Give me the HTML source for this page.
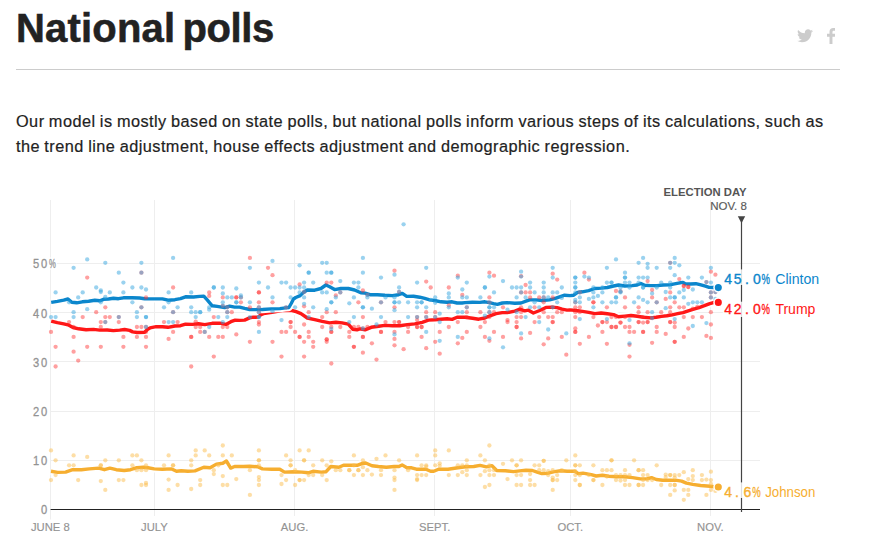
<!DOCTYPE html>
<html><head><meta charset="utf-8"><title>National polls</title>
<style>
html,body{margin:0;padding:0;background:#fff;}
body{width:884px;height:559px;overflow:hidden;position:relative;font-family:"Liberation Sans",sans-serif;color:#222;}
h1{position:absolute;left:15.9px;top:0px;-webkit-text-stroke:0.55px #222;margin:0;font-size:40px;line-height:56px;font-weight:bold;color:#222;letter-spacing:-0.4px;white-space:nowrap;}
.hr{position:absolute;left:16px;top:69px;width:824px;height:1px;background:#ccc;}
p{position:absolute;left:16px;top:108px;transform:translateY(0.5px);-webkit-text-stroke:0.2px #222;margin:0;font-size:16.3px;letter-spacing:0.46px;word-spacing:-0.63px;line-height:25px;color:#222;white-space:nowrap;}
svg{position:absolute;left:0;top:0;}
.ylab{font-family:"Liberation Sans",sans-serif;font-size:12.4px;fill:#939393;stroke:#939393;stroke-width:0.3px;}
.xlab{font-family:"Liberation Sans",sans-serif;font-size:11.8px;fill:#939393;stroke:#939393;stroke-width:0.15px;}
.num{font-family:"Liberation Sans",sans-serif;font-size:14px;}
.nm{font-family:"Liberation Sans",sans-serif;font-size:14px;}
.eday{font-family:"Liberation Sans",sans-serif;font-size:11.3px;font-weight:bold;fill:#555;}
.eday2{font-family:"Liberation Sans",sans-serif;font-size:11.5px;fill:#5a5a5a;stroke:#5a5a5a;stroke-width:0.15px;}
</style></head><body>
<h1><span style="letter-spacing:0.2px">National</span><span style="letter-spacing:-3.9px"> </span>polls</h1>
<svg class="soc" style="left:796.9px;top:29.1px" width="16" height="14" viewBox="0 0 24 20"><path fill="#ccc" d="M24 2.4c-.9.4-1.8.7-2.8.8 1-.6 1.800-1.600 2.200-2.700-1 .6-2 1-3.100 1.200C19.300.7 18 0 16.600 0c-2.700 0-4.900 2.200-4.900 4.900 0 .4 0 .8.100 1.100C7.700 5.800 4.100 3.800 1.700.900c-.4.700-.700 1.600-.700 2.500 0 1.700.900 3.200 2.200 4.100-.8 0-1.600-.2-2.200-.6v.100c0 2.400 1.700 4.400 3.900 4.800-.4.100-.800.200-1.300.2-.3 0-.6 0-.9-.1.600 2 2.400 3.400 4.600 3.400-1.700 1.300-3.800 2.100-6.100 2.100-.4 0-.8 0-1.200-.1 2.200 1.400 4.800 2.200 7.500 2.200 9.100 0 14-7.500 14-14v-.6c1-.7 1.800-1.600 2.500-2.500z"/></svg>
<svg class="soc" style="left:826.9px;top:28px" width="8.4" height="16" viewBox="0 0 10 20" preserveAspectRatio="none"><path fill="#ccc" d="M6.500 20v-9.100h3l.5-3.600H6.500V5.100c0-1 .3-1.700 1.700-1.700H10V.2C9.700.1 8.600 0 7.400 0 4.800 0 3 1.600 3 4.600v2.700H0v3.600h3V20h3.500z"/></svg>
<div class="hr"></div>
<p>Our model is mostly based on state polls, but national polls inform various steps of its calculations, such as<br>the trend line adjustment, house effects adjustment and demographic regression.</p>
<svg width="884" height="559" viewBox="0 0 884 559">
<line x1="50.5" y1="200" x2="50.5" y2="519.5" stroke="#eeeeee" stroke-width="1"/>
<line x1="154.5" y1="200" x2="154.5" y2="516" stroke="#eeeeee" stroke-width="1"/>
<line x1="294.5" y1="200" x2="294.5" y2="516" stroke="#eeeeee" stroke-width="1"/>
<line x1="434.5" y1="200" x2="434.5" y2="516" stroke="#eeeeee" stroke-width="1"/>
<line x1="570.5" y1="200" x2="570.5" y2="516" stroke="#eeeeee" stroke-width="1"/>
<line x1="710.5" y1="200" x2="710.5" y2="516" stroke="#eeeeee" stroke-width="1"/>
<line x1="50" y1="460.5" x2="760" y2="460.5" stroke="#eeeeee" stroke-width="1"/>
<line x1="50" y1="411.5" x2="760" y2="411.5" stroke="#eeeeee" stroke-width="1"/>
<line x1="50" y1="361.5" x2="760" y2="361.5" stroke="#eeeeee" stroke-width="1"/>
<line x1="50" y1="312.5" x2="760" y2="312.5" stroke="#eeeeee" stroke-width="1"/>
<line x1="50" y1="263.5" x2="760" y2="263.5" stroke="#eeeeee" stroke-width="1"/>
<line x1="50.6" y1="509.5" x2="760" y2="509.5" stroke="#222" stroke-width="1.2"/>
<line x1="741.5" y1="218" x2="741.5" y2="512" stroke="#444" stroke-width="1.2"/>
<path d="M737.8 216.3 L745.2 216.3 L741.5 223.2 Z" fill="#444"/>
<rect x="31" y="257.5" width="26" height="12" fill="#fff"/>
<text transform="translate(33.0,268.3) scale(0.9,1)" class="ylab">5</text>
<text transform="translate(41.0,268.3) scale(0.9,1)" class="ylab">0</text>
<text transform="translate(48.9,268.3) scale(0.62,1)" class="ylab">%</text>
<text transform="translate(33.0,317.5) scale(0.9,1)" class="ylab">4</text>
<text transform="translate(41.0,317.5) scale(0.9,1)" class="ylab">0</text>
<text transform="translate(33.0,366.7) scale(0.9,1)" class="ylab">3</text>
<text transform="translate(41.0,366.7) scale(0.9,1)" class="ylab">0</text>
<text transform="translate(33.0,415.9) scale(0.9,1)" class="ylab">2</text>
<text transform="translate(41.0,415.9) scale(0.9,1)" class="ylab">0</text>
<text transform="translate(33.0,465.1) scale(0.9,1)" class="ylab">1</text>
<text transform="translate(41.0,465.1) scale(0.9,1)" class="ylab">0</text>
<text transform="translate(41.0,514.3) scale(0.9,1)" class="ylab">0</text>
<polyline points="51.0,471.3 57.7,472.4 65.6,472.1 72.7,469.7 81.4,469.7 89.3,468.9 98.8,468.1 104.4,469.7 109.9,468.1 116.3,469.7 124.2,470.5 130.5,469.7 136.9,467.6 143.2,467.3 147.9,467.8 154.3,468.9 162.2,469.2 171.7,468.9 176.5,471.3 181.2,470.8 187.9,471.3 195.0,470.9 203.8,467.3 210.1,467.8 216.4,464.1 222.8,463.3 226.4,461.0 230.7,468.1 234.6,466.5 243.4,466.5 249.7,466.2 257.6,466.8 262.4,468.9 271.9,469.2 279.8,469.2 284.5,472.1 294.0,471.7 301.9,472.1 308.3,472.8 313.0,471.3 321.3,472.1 326.1,471.7 330.8,466.5 338.8,467.3 343.5,465.2 351.4,465.2 357.8,465.2 362.5,463.3 365.7,463.0 372.0,465.7 378.4,466.5 386.3,467.3 394.2,466.5 398.9,466.5 402.1,464.9 406.9,467.8 411.6,467.8 416.4,469.2 425.9,469.2 430.6,471.3 433.8,471.3 438.5,469.2 448.0,469.2 457.9,467.8 465.8,466.8 473.8,466.5 480.1,465.4 486.4,466.8 492.0,465.7 496.7,470.5 505.4,470.8 513.4,471.6 519.7,470.9 526.0,470.2 532.4,470.5 537.1,472.1 541.9,473.6 548.2,473.2 554.5,471.6 560.9,470.8 567.2,471.3 575.1,471.3 578.3,473.6 583.0,473.2 591.3,474.7 596.1,476.0 602.4,475.2 608.8,476.3 616.7,476.8 624.6,476.8 632.5,477.6 640.4,478.9 646.8,478.9 651.5,477.6 656.3,479.5 662.6,480.3 670.5,480.3 676.9,480.4 681.6,481.1 686.4,483.1 692.7,484.4 700.6,485.5 710.1,486.3 714.1,486.7 718.3,487.0" fill="none" stroke="#fff" stroke-width="7.4" stroke-linejoin="round" stroke-linecap="butt"/>
<polyline points="51.0,471.3 57.7,472.4 65.6,472.1 72.7,469.7 81.4,469.7 89.3,468.9 98.8,468.1 104.4,469.7 109.9,468.1 116.3,469.7 124.2,470.5 130.5,469.7 136.9,467.6 143.2,467.3 147.9,467.8 154.3,468.9 162.2,469.2 171.7,468.9 176.5,471.3 181.2,470.8 187.9,471.3 195.0,470.9 203.8,467.3 210.1,467.8 216.4,464.1 222.8,463.3 226.4,461.0 230.7,468.1 234.6,466.5 243.4,466.5 249.7,466.2 257.6,466.8 262.4,468.9 271.9,469.2 279.8,469.2 284.5,472.1 294.0,471.7 301.9,472.1 308.3,472.8 313.0,471.3 321.3,472.1 326.1,471.7 330.8,466.5 338.8,467.3 343.5,465.2 351.4,465.2 357.8,465.2 362.5,463.3 365.7,463.0 372.0,465.7 378.4,466.5 386.3,467.3 394.2,466.5 398.9,466.5 402.1,464.9 406.9,467.8 411.6,467.8 416.4,469.2 425.9,469.2 430.6,471.3 433.8,471.3 438.5,469.2 448.0,469.2 457.9,467.8 465.8,466.8 473.8,466.5 480.1,465.4 486.4,466.8 492.0,465.7 496.7,470.5 505.4,470.8 513.4,471.6 519.7,470.9 526.0,470.2 532.4,470.5 537.1,472.1 541.9,473.6 548.2,473.2 554.5,471.6 560.9,470.8 567.2,471.3 575.1,471.3 578.3,473.6 583.0,473.2 591.3,474.7 596.1,476.0 602.4,475.2 608.8,476.3 616.7,476.8 624.6,476.8 632.5,477.6 640.4,478.9 646.8,478.9 651.5,477.6 656.3,479.5 662.6,480.3 670.5,480.3 676.9,480.4 681.6,481.1 686.4,483.1 692.7,484.4 700.6,485.5 710.1,486.3 714.1,486.7 718.3,487.0" fill="none" stroke="#f6ae30" stroke-width="3.4" stroke-linejoin="round" stroke-linecap="butt"/>
<polyline points="51.2,321.1 57.4,322.6 63.7,323.8 68.0,324.8 73.0,327.5 78.6,328.8 86.1,329.8 93.5,329.4 99.8,330.1 107.2,330.0 113.4,330.6 119.7,330.1 124.6,329.5 129.6,330.4 132.7,331.9 137.1,332.5 144.6,332.3 147.7,329.2 150,327.9 156.2,326.7 162.4,326.7 168.0,327.3 174.9,326.0 180.5,325.7 185.5,324.2 192.3,324.4 198.5,323.8 204.8,324.6 212.2,323.3 219.7,323.2 225.9,324.4 230.9,321.7 235.2,320.1 239.6,320.4 244.6,320.1 249.6,317.9 253.3,317.1 255,317.3 258.4,317.0 261,314.6 263.5,313.6 272,312.3 282,310.6 292,310.5 296.1,311.7 301.0,313.6 307.3,318.0 314.7,319.6 322.2,321.4 329.7,322.9 335.9,322.3 342.1,322.9 348.3,324.2 352.7,329.2 357.0,329.8 360,328.9 365.0,329.8 371.2,327.3 378.7,326.3 384.9,325.4 392.4,325.8 399.8,325.7 407.3,324.6 414.8,323.9 422.2,322.3 428.4,320.1 434.7,319.8 440.9,319.2 447.1,318.8 452.1,319.4 457.1,317.3 462.0,317.1 465,317.3 472.5,318.3 478.7,319.2 484.9,318.0 489.9,315.8 496.1,313.6 502.3,312.6 507.3,312.6 514.8,311.1 519.8,309.2 524.7,310.9 528.5,310.2 533.4,313.0 539.7,310.5 545.9,307.4 552.1,307.1 557.1,307.6 562.1,309.2 567.0,310.1 570,309.9 576.2,310.5 582.4,311.4 588.7,312.4 594.9,313.6 601.1,313.0 607.3,313.8 613.6,314.6 618.5,316.7 624.8,316.1 631.0,315.5 637.2,316.3 643.4,317.2 650.7,317.9 656.1,317.3 661.5,316.4 666.8,315.8 672.2,314.9 677.6,313.7 683.0,312.6 688.3,310.8 693.7,309.2 699.1,307.6 704.4,305.7 709.8,303.6 714.3,302.3 718.3,302.4" fill="none" stroke="#fff" stroke-width="7.4" stroke-linejoin="round" stroke-linecap="butt"/>
<polyline points="51.2,321.1 57.4,322.6 63.7,323.8 68.0,324.8 73.0,327.5 78.6,328.8 86.1,329.8 93.5,329.4 99.8,330.1 107.2,330.0 113.4,330.6 119.7,330.1 124.6,329.5 129.6,330.4 132.7,331.9 137.1,332.5 144.6,332.3 147.7,329.2 150,327.9 156.2,326.7 162.4,326.7 168.0,327.3 174.9,326.0 180.5,325.7 185.5,324.2 192.3,324.4 198.5,323.8 204.8,324.6 212.2,323.3 219.7,323.2 225.9,324.4 230.9,321.7 235.2,320.1 239.6,320.4 244.6,320.1 249.6,317.9 253.3,317.1 255,317.3 258.4,317.0 261,314.6 263.5,313.6 272,312.3 282,310.6 292,310.5 296.1,311.7 301.0,313.6 307.3,318.0 314.7,319.6 322.2,321.4 329.7,322.9 335.9,322.3 342.1,322.9 348.3,324.2 352.7,329.2 357.0,329.8 360,328.9 365.0,329.8 371.2,327.3 378.7,326.3 384.9,325.4 392.4,325.8 399.8,325.7 407.3,324.6 414.8,323.9 422.2,322.3 428.4,320.1 434.7,319.8 440.9,319.2 447.1,318.8 452.1,319.4 457.1,317.3 462.0,317.1 465,317.3 472.5,318.3 478.7,319.2 484.9,318.0 489.9,315.8 496.1,313.6 502.3,312.6 507.3,312.6 514.8,311.1 519.8,309.2 524.7,310.9 528.5,310.2 533.4,313.0 539.7,310.5 545.9,307.4 552.1,307.1 557.1,307.6 562.1,309.2 567.0,310.1 570,309.9 576.2,310.5 582.4,311.4 588.7,312.4 594.9,313.6 601.1,313.0 607.3,313.8 613.6,314.6 618.5,316.7 624.8,316.1 631.0,315.5 637.2,316.3 643.4,317.2 650.7,317.9 656.1,317.3 661.5,316.4 666.8,315.8 672.2,314.9 677.6,313.7 683.0,312.6 688.3,310.8 693.7,309.2 699.1,307.6 704.4,305.7 709.8,303.6 714.3,302.3 718.3,302.4" fill="none" stroke="#ff1717" stroke-width="3.4" stroke-linejoin="round" stroke-linecap="butt"/>
<polyline points="51.2,302.4 57.4,301.4 63.7,300.2 68.0,299.0 71.8,302.2 76.7,302.8 82.3,301.8 88.6,301.2 94.8,300.3 99.8,300.8 103.5,299.3 108.5,299.0 113.4,298.3 118.4,298.7 123.4,297.8 132.1,297.8 139.6,298.0 144.6,298.7 150,298.9 156.2,298.9 162.4,298.9 168.0,300.2 174.9,299.7 180.5,298.7 185.5,296.8 193.6,297.0 199.8,296.4 203.8,296.2 207.2,299.9 212.2,305.8 217.2,306.4 224.7,307.6 229.6,306.1 234.6,307.1 239.6,307.1 244.6,308.4 249.6,309.5 255,309.6 262.5,309.5 271.2,308.9 279.9,308.6 285.5,307.9 288.9,307.5 291.2,303.5 293.5,299.0 295.7,297.5 300.2,295.6 303.5,292.4 307.3,290.0 314.7,290.2 321.0,288.5 325.9,285.0 329.7,286.8 334.6,289.6 340.9,288.5 348.3,288.5 354.6,290.0 360.8,292.8 365.0,293.1 370.0,294.7 377.4,294.7 384.9,295.3 392.4,295.6 398.6,294.7 402.3,293.4 406.7,296.4 413.5,296.2 419.7,297.2 424.7,298.4 429.7,299.9 434.7,300.5 440.9,301.8 447.1,302.2 452.1,301.8 457.1,303.0 462.0,303.0 465,302.6 472.5,302.2 479.9,302.4 484.9,301.8 489.3,302.6 493.6,303.6 497.4,304.3 502.3,303.0 507.3,302.6 514.8,303.3 521.0,303.0 526.0,301.2 529.7,299.9 535.9,299.9 542.2,300.5 549.6,299.9 554.6,298.7 559.6,296.8 564.6,295.2 570,295.6 573.7,295.2 577.5,292.4 582.4,291.8 588.7,290.6 594.9,288.5 601.1,288.1 607.3,287.5 613.6,286.0 618.5,285.0 624.8,286.0 632.2,285.6 637.2,285.0 640.9,283.5 644.7,285.2 650.9,285.6 657.1,285.6 663.3,285.0 669.6,284.9 675.8,283.7 680,282.8 683.0,282.4 685.1,283.7 690.5,284.0 695.8,283.7 700,284.7 705.4,286.2 709.1,287.4 713.4,287.5 718.3,287.6" fill="none" stroke="#fff" stroke-width="7.4" stroke-linejoin="round" stroke-linecap="butt"/>
<polyline points="51.2,302.4 57.4,301.4 63.7,300.2 68.0,299.0 71.8,302.2 76.7,302.8 82.3,301.8 88.6,301.2 94.8,300.3 99.8,300.8 103.5,299.3 108.5,299.0 113.4,298.3 118.4,298.7 123.4,297.8 132.1,297.8 139.6,298.0 144.6,298.7 150,298.9 156.2,298.9 162.4,298.9 168.0,300.2 174.9,299.7 180.5,298.7 185.5,296.8 193.6,297.0 199.8,296.4 203.8,296.2 207.2,299.9 212.2,305.8 217.2,306.4 224.7,307.6 229.6,306.1 234.6,307.1 239.6,307.1 244.6,308.4 249.6,309.5 255,309.6 262.5,309.5 271.2,308.9 279.9,308.6 285.5,307.9 288.9,307.5 291.2,303.5 293.5,299.0 295.7,297.5 300.2,295.6 303.5,292.4 307.3,290.0 314.7,290.2 321.0,288.5 325.9,285.0 329.7,286.8 334.6,289.6 340.9,288.5 348.3,288.5 354.6,290.0 360.8,292.8 365.0,293.1 370.0,294.7 377.4,294.7 384.9,295.3 392.4,295.6 398.6,294.7 402.3,293.4 406.7,296.4 413.5,296.2 419.7,297.2 424.7,298.4 429.7,299.9 434.7,300.5 440.9,301.8 447.1,302.2 452.1,301.8 457.1,303.0 462.0,303.0 465,302.6 472.5,302.2 479.9,302.4 484.9,301.8 489.3,302.6 493.6,303.6 497.4,304.3 502.3,303.0 507.3,302.6 514.8,303.3 521.0,303.0 526.0,301.2 529.7,299.9 535.9,299.9 542.2,300.5 549.6,299.9 554.6,298.7 559.6,296.8 564.6,295.2 570,295.6 573.7,295.2 577.5,292.4 582.4,291.8 588.7,290.6 594.9,288.5 601.1,288.1 607.3,287.5 613.6,286.0 618.5,285.0 624.8,286.0 632.2,285.6 637.2,285.0 640.9,283.5 644.7,285.2 650.9,285.6 657.1,285.6 663.3,285.0 669.6,284.9 675.8,283.7 680,282.8 683.0,282.4 685.1,283.7 690.5,284.0 695.8,283.7 700,284.7 705.4,286.2 709.1,287.4 713.4,287.5 718.3,287.6" fill="none" stroke="#0b86cc" stroke-width="3.4" stroke-linejoin="round" stroke-linecap="butt"/>
<circle cx="51.0" cy="450.4" r="2.15" fill="#fbbd4e" fill-opacity="0.5"/>
<circle cx="51.0" cy="480.1" r="2.15" fill="#fbbd4e" fill-opacity="0.5"/>
<circle cx="55.6" cy="460.3" r="2.15" fill="#fbbd4e" fill-opacity="0.5"/>
<circle cx="55.6" cy="475.1" r="2.15" fill="#fbbd4e" fill-opacity="0.5"/>
<circle cx="69.1" cy="465.3" r="2.15" fill="#fbbd4e" fill-opacity="0.5"/>
<circle cx="73.6" cy="455.4" r="2.15" fill="#fbbd4e" fill-opacity="0.5"/>
<circle cx="73.6" cy="465.3" r="2.15" fill="#fbbd4e" fill-opacity="0.5"/>
<circle cx="78.2" cy="480.1" r="2.15" fill="#fbbd4e" fill-opacity="0.5"/>
<circle cx="87.2" cy="456.9" r="2.15" fill="#fbbd4e" fill-opacity="0.5"/>
<circle cx="100.8" cy="465.3" r="2.15" fill="#fbbd4e" fill-opacity="0.5"/>
<circle cx="100.8" cy="465.3" r="2.15" fill="#fbbd4e" fill-opacity="0.5"/>
<circle cx="100.8" cy="481.1" r="2.15" fill="#fbbd4e" fill-opacity="0.5"/>
<circle cx="105.3" cy="460.3" r="2.15" fill="#fbbd4e" fill-opacity="0.5"/>
<circle cx="105.3" cy="489.9" r="2.15" fill="#fbbd4e" fill-opacity="0.5"/>
<circle cx="118.8" cy="460.3" r="2.15" fill="#fbbd4e" fill-opacity="0.5"/>
<circle cx="118.8" cy="480.1" r="2.15" fill="#fbbd4e" fill-opacity="0.5"/>
<circle cx="123.4" cy="480.1" r="2.15" fill="#fbbd4e" fill-opacity="0.5"/>
<circle cx="132.4" cy="455.4" r="2.15" fill="#fbbd4e" fill-opacity="0.5"/>
<circle cx="132.4" cy="465.3" r="2.15" fill="#fbbd4e" fill-opacity="0.5"/>
<circle cx="136.9" cy="455.4" r="2.15" fill="#fbbd4e" fill-opacity="0.5"/>
<circle cx="136.9" cy="470.2" r="2.15" fill="#fbbd4e" fill-opacity="0.5"/>
<circle cx="141.4" cy="460.3" r="2.15" fill="#fbbd4e" fill-opacity="0.5"/>
<circle cx="141.4" cy="470.2" r="2.15" fill="#fbbd4e" fill-opacity="0.5"/>
<circle cx="141.4" cy="485.0" r="2.15" fill="#fbbd4e" fill-opacity="0.5"/>
<circle cx="146.0" cy="465.3" r="2.15" fill="#fbbd4e" fill-opacity="0.5"/>
<circle cx="146.0" cy="470.2" r="2.15" fill="#fbbd4e" fill-opacity="0.5"/>
<circle cx="146.0" cy="483.0" r="2.15" fill="#fbbd4e" fill-opacity="0.5"/>
<circle cx="146.0" cy="485.0" r="2.15" fill="#fbbd4e" fill-opacity="0.5"/>
<circle cx="164.0" cy="465.3" r="2.15" fill="#fbbd4e" fill-opacity="0.5"/>
<circle cx="168.6" cy="455.4" r="2.15" fill="#fbbd4e" fill-opacity="0.5"/>
<circle cx="168.6" cy="479.6" r="2.15" fill="#fbbd4e" fill-opacity="0.5"/>
<circle cx="168.6" cy="489.9" r="2.15" fill="#fbbd4e" fill-opacity="0.5"/>
<circle cx="173.1" cy="465.3" r="2.15" fill="#fbbd4e" fill-opacity="0.5"/>
<circle cx="173.1" cy="465.3" r="2.15" fill="#fbbd4e" fill-opacity="0.5"/>
<circle cx="177.6" cy="485.0" r="2.15" fill="#fbbd4e" fill-opacity="0.5"/>
<circle cx="191.2" cy="460.3" r="2.15" fill="#fbbd4e" fill-opacity="0.5"/>
<circle cx="191.2" cy="465.3" r="2.15" fill="#fbbd4e" fill-opacity="0.5"/>
<circle cx="191.2" cy="489.0" r="2.15" fill="#fbbd4e" fill-opacity="0.5"/>
<circle cx="195.7" cy="450.4" r="2.15" fill="#fbbd4e" fill-opacity="0.5"/>
<circle cx="195.7" cy="455.4" r="2.15" fill="#fbbd4e" fill-opacity="0.5"/>
<circle cx="200.2" cy="480.1" r="2.15" fill="#fbbd4e" fill-opacity="0.5"/>
<circle cx="200.2" cy="485.0" r="2.15" fill="#fbbd4e" fill-opacity="0.5"/>
<circle cx="204.7" cy="450.4" r="2.15" fill="#fbbd4e" fill-opacity="0.5"/>
<circle cx="209.2" cy="455.4" r="2.15" fill="#fbbd4e" fill-opacity="0.5"/>
<circle cx="213.8" cy="470.2" r="2.15" fill="#fbbd4e" fill-opacity="0.5"/>
<circle cx="213.8" cy="474.1" r="2.15" fill="#fbbd4e" fill-opacity="0.5"/>
<circle cx="218.3" cy="465.3" r="2.15" fill="#fbbd4e" fill-opacity="0.5"/>
<circle cx="222.8" cy="445.5" r="2.15" fill="#fbbd4e" fill-opacity="0.5"/>
<circle cx="222.8" cy="455.4" r="2.15" fill="#fbbd4e" fill-opacity="0.5"/>
<circle cx="222.8" cy="476.1" r="2.15" fill="#fbbd4e" fill-opacity="0.5"/>
<circle cx="222.8" cy="485.0" r="2.15" fill="#fbbd4e" fill-opacity="0.5"/>
<circle cx="227.3" cy="485.0" r="2.15" fill="#fbbd4e" fill-opacity="0.5"/>
<circle cx="231.8" cy="455.4" r="2.15" fill="#fbbd4e" fill-opacity="0.5"/>
<circle cx="236.3" cy="479.1" r="2.15" fill="#fbbd4e" fill-opacity="0.5"/>
<circle cx="249.9" cy="470.2" r="2.15" fill="#fbbd4e" fill-opacity="0.5"/>
<circle cx="249.9" cy="494.9" r="2.15" fill="#fbbd4e" fill-opacity="0.5"/>
<circle cx="258.9" cy="450.4" r="2.15" fill="#fbbd4e" fill-opacity="0.5"/>
<circle cx="258.9" cy="460.3" r="2.15" fill="#fbbd4e" fill-opacity="0.5"/>
<circle cx="258.9" cy="460.3" r="2.15" fill="#fbbd4e" fill-opacity="0.5"/>
<circle cx="258.9" cy="465.3" r="2.15" fill="#fbbd4e" fill-opacity="0.5"/>
<circle cx="258.9" cy="477.1" r="2.15" fill="#fbbd4e" fill-opacity="0.5"/>
<circle cx="258.9" cy="480.1" r="2.15" fill="#fbbd4e" fill-opacity="0.5"/>
<circle cx="258.9" cy="485.0" r="2.15" fill="#fbbd4e" fill-opacity="0.5"/>
<circle cx="281.5" cy="475.1" r="2.15" fill="#fbbd4e" fill-opacity="0.5"/>
<circle cx="281.5" cy="484.0" r="2.15" fill="#fbbd4e" fill-opacity="0.5"/>
<circle cx="286.1" cy="455.4" r="2.15" fill="#fbbd4e" fill-opacity="0.5"/>
<circle cx="286.1" cy="480.1" r="2.15" fill="#fbbd4e" fill-opacity="0.5"/>
<circle cx="290.6" cy="460.3" r="2.15" fill="#fbbd4e" fill-opacity="0.5"/>
<circle cx="290.6" cy="465.3" r="2.15" fill="#fbbd4e" fill-opacity="0.5"/>
<circle cx="290.6" cy="465.3" r="2.15" fill="#fbbd4e" fill-opacity="0.5"/>
<circle cx="295.1" cy="470.2" r="2.15" fill="#fbbd4e" fill-opacity="0.5"/>
<circle cx="295.1" cy="485.0" r="2.15" fill="#fbbd4e" fill-opacity="0.5"/>
<circle cx="299.6" cy="450.4" r="2.15" fill="#fbbd4e" fill-opacity="0.5"/>
<circle cx="299.6" cy="480.1" r="2.15" fill="#fbbd4e" fill-opacity="0.5"/>
<circle cx="299.6" cy="480.1" r="2.15" fill="#fbbd4e" fill-opacity="0.5"/>
<circle cx="304.1" cy="460.3" r="2.15" fill="#fbbd4e" fill-opacity="0.5"/>
<circle cx="304.1" cy="460.3" r="2.15" fill="#fbbd4e" fill-opacity="0.5"/>
<circle cx="304.1" cy="480.1" r="2.15" fill="#fbbd4e" fill-opacity="0.5"/>
<circle cx="308.7" cy="450.4" r="2.15" fill="#fbbd4e" fill-opacity="0.5"/>
<circle cx="308.7" cy="475.1" r="2.15" fill="#fbbd4e" fill-opacity="0.5"/>
<circle cx="313.2" cy="465.3" r="2.15" fill="#fbbd4e" fill-opacity="0.5"/>
<circle cx="313.2" cy="475.1" r="2.15" fill="#fbbd4e" fill-opacity="0.5"/>
<circle cx="322.2" cy="460.3" r="2.15" fill="#fbbd4e" fill-opacity="0.5"/>
<circle cx="322.2" cy="475.1" r="2.15" fill="#fbbd4e" fill-opacity="0.5"/>
<circle cx="326.7" cy="465.3" r="2.15" fill="#fbbd4e" fill-opacity="0.5"/>
<circle cx="326.7" cy="480.1" r="2.15" fill="#fbbd4e" fill-opacity="0.5"/>
<circle cx="331.3" cy="461.3" r="2.15" fill="#fbbd4e" fill-opacity="0.5"/>
<circle cx="335.8" cy="470.2" r="2.15" fill="#fbbd4e" fill-opacity="0.5"/>
<circle cx="340.3" cy="470.2" r="2.15" fill="#fbbd4e" fill-opacity="0.5"/>
<circle cx="349.3" cy="470.2" r="2.15" fill="#fbbd4e" fill-opacity="0.5"/>
<circle cx="349.3" cy="470.2" r="2.15" fill="#fbbd4e" fill-opacity="0.5"/>
<circle cx="353.9" cy="455.4" r="2.15" fill="#fbbd4e" fill-opacity="0.5"/>
<circle cx="353.9" cy="475.1" r="2.15" fill="#fbbd4e" fill-opacity="0.5"/>
<circle cx="353.9" cy="465.3" r="2.15" fill="#fbbd4e" fill-opacity="0.5"/>
<circle cx="358.4" cy="470.2" r="2.15" fill="#fbbd4e" fill-opacity="0.5"/>
<circle cx="358.4" cy="470.2" r="2.15" fill="#fbbd4e" fill-opacity="0.5"/>
<circle cx="362.9" cy="460.3" r="2.15" fill="#fbbd4e" fill-opacity="0.5"/>
<circle cx="362.9" cy="467.2" r="2.15" fill="#fbbd4e" fill-opacity="0.5"/>
<circle cx="362.9" cy="475.1" r="2.15" fill="#fbbd4e" fill-opacity="0.5"/>
<circle cx="367.4" cy="470.2" r="2.15" fill="#fbbd4e" fill-opacity="0.5"/>
<circle cx="371.9" cy="474.6" r="2.15" fill="#fbbd4e" fill-opacity="0.5"/>
<circle cx="376.5" cy="458.8" r="2.15" fill="#fbbd4e" fill-opacity="0.5"/>
<circle cx="381.0" cy="470.2" r="2.15" fill="#fbbd4e" fill-opacity="0.5"/>
<circle cx="381.0" cy="475.1" r="2.15" fill="#fbbd4e" fill-opacity="0.5"/>
<circle cx="385.5" cy="455.4" r="2.15" fill="#fbbd4e" fill-opacity="0.5"/>
<circle cx="394.5" cy="470.2" r="2.15" fill="#fbbd4e" fill-opacity="0.5"/>
<circle cx="394.5" cy="477.6" r="2.15" fill="#fbbd4e" fill-opacity="0.5"/>
<circle cx="394.5" cy="480.1" r="2.15" fill="#fbbd4e" fill-opacity="0.5"/>
<circle cx="394.5" cy="489.9" r="2.15" fill="#fbbd4e" fill-opacity="0.5"/>
<circle cx="399.1" cy="460.3" r="2.15" fill="#fbbd4e" fill-opacity="0.5"/>
<circle cx="408.1" cy="470.2" r="2.15" fill="#fbbd4e" fill-opacity="0.5"/>
<circle cx="417.1" cy="455.4" r="2.15" fill="#fbbd4e" fill-opacity="0.5"/>
<circle cx="417.1" cy="475.1" r="2.15" fill="#fbbd4e" fill-opacity="0.5"/>
<circle cx="417.1" cy="479.1" r="2.15" fill="#fbbd4e" fill-opacity="0.5"/>
<circle cx="417.1" cy="480.1" r="2.15" fill="#fbbd4e" fill-opacity="0.5"/>
<circle cx="421.6" cy="465.3" r="2.15" fill="#fbbd4e" fill-opacity="0.5"/>
<circle cx="421.6" cy="475.1" r="2.15" fill="#fbbd4e" fill-opacity="0.5"/>
<circle cx="426.2" cy="465.3" r="2.15" fill="#fbbd4e" fill-opacity="0.5"/>
<circle cx="426.2" cy="466.7" r="2.15" fill="#fbbd4e" fill-opacity="0.5"/>
<circle cx="426.2" cy="475.1" r="2.15" fill="#fbbd4e" fill-opacity="0.5"/>
<circle cx="435.2" cy="450.4" r="2.15" fill="#fbbd4e" fill-opacity="0.5"/>
<circle cx="435.2" cy="455.4" r="2.15" fill="#fbbd4e" fill-opacity="0.5"/>
<circle cx="435.2" cy="465.3" r="2.15" fill="#fbbd4e" fill-opacity="0.5"/>
<circle cx="439.7" cy="463.3" r="2.15" fill="#fbbd4e" fill-opacity="0.5"/>
<circle cx="439.7" cy="465.8" r="2.15" fill="#fbbd4e" fill-opacity="0.5"/>
<circle cx="448.8" cy="450.4" r="2.15" fill="#fbbd4e" fill-opacity="0.5"/>
<circle cx="448.8" cy="475.1" r="2.15" fill="#fbbd4e" fill-opacity="0.5"/>
<circle cx="457.8" cy="465.3" r="2.15" fill="#fbbd4e" fill-opacity="0.5"/>
<circle cx="457.8" cy="475.1" r="2.15" fill="#fbbd4e" fill-opacity="0.5"/>
<circle cx="462.3" cy="465.3" r="2.15" fill="#fbbd4e" fill-opacity="0.5"/>
<circle cx="462.3" cy="472.2" r="2.15" fill="#fbbd4e" fill-opacity="0.5"/>
<circle cx="466.8" cy="460.3" r="2.15" fill="#fbbd4e" fill-opacity="0.5"/>
<circle cx="466.8" cy="465.3" r="2.15" fill="#fbbd4e" fill-opacity="0.5"/>
<circle cx="466.8" cy="470.2" r="2.15" fill="#fbbd4e" fill-opacity="0.5"/>
<circle cx="466.8" cy="475.1" r="2.15" fill="#fbbd4e" fill-opacity="0.5"/>
<circle cx="480.4" cy="455.4" r="2.15" fill="#fbbd4e" fill-opacity="0.5"/>
<circle cx="480.4" cy="475.1" r="2.15" fill="#fbbd4e" fill-opacity="0.5"/>
<circle cx="484.9" cy="460.3" r="2.15" fill="#fbbd4e" fill-opacity="0.5"/>
<circle cx="484.9" cy="471.2" r="2.15" fill="#fbbd4e" fill-opacity="0.5"/>
<circle cx="484.9" cy="487.0" r="2.15" fill="#fbbd4e" fill-opacity="0.5"/>
<circle cx="489.4" cy="445.5" r="2.15" fill="#fbbd4e" fill-opacity="0.5"/>
<circle cx="489.4" cy="465.3" r="2.15" fill="#fbbd4e" fill-opacity="0.5"/>
<circle cx="489.4" cy="470.2" r="2.15" fill="#fbbd4e" fill-opacity="0.5"/>
<circle cx="489.4" cy="475.1" r="2.15" fill="#fbbd4e" fill-opacity="0.5"/>
<circle cx="489.4" cy="485.0" r="2.15" fill="#fbbd4e" fill-opacity="0.5"/>
<circle cx="494.0" cy="470.2" r="2.15" fill="#fbbd4e" fill-opacity="0.5"/>
<circle cx="494.0" cy="475.1" r="2.15" fill="#fbbd4e" fill-opacity="0.5"/>
<circle cx="503.0" cy="463.8" r="2.15" fill="#fbbd4e" fill-opacity="0.5"/>
<circle cx="507.5" cy="479.1" r="2.15" fill="#fbbd4e" fill-opacity="0.5"/>
<circle cx="512.0" cy="460.3" r="2.15" fill="#fbbd4e" fill-opacity="0.5"/>
<circle cx="516.6" cy="465.3" r="2.15" fill="#fbbd4e" fill-opacity="0.5"/>
<circle cx="516.6" cy="465.3" r="2.15" fill="#fbbd4e" fill-opacity="0.5"/>
<circle cx="516.6" cy="475.1" r="2.15" fill="#fbbd4e" fill-opacity="0.5"/>
<circle cx="516.6" cy="485.0" r="2.15" fill="#fbbd4e" fill-opacity="0.5"/>
<circle cx="521.1" cy="460.3" r="2.15" fill="#fbbd4e" fill-opacity="0.5"/>
<circle cx="521.1" cy="475.1" r="2.15" fill="#fbbd4e" fill-opacity="0.5"/>
<circle cx="521.1" cy="485.0" r="2.15" fill="#fbbd4e" fill-opacity="0.5"/>
<circle cx="530.1" cy="474.1" r="2.15" fill="#fbbd4e" fill-opacity="0.5"/>
<circle cx="530.1" cy="480.1" r="2.15" fill="#fbbd4e" fill-opacity="0.5"/>
<circle cx="530.1" cy="485.0" r="2.15" fill="#fbbd4e" fill-opacity="0.5"/>
<circle cx="534.6" cy="465.3" r="2.15" fill="#fbbd4e" fill-opacity="0.5"/>
<circle cx="534.6" cy="485.0" r="2.15" fill="#fbbd4e" fill-opacity="0.5"/>
<circle cx="539.2" cy="465.3" r="2.15" fill="#fbbd4e" fill-opacity="0.5"/>
<circle cx="539.2" cy="470.2" r="2.15" fill="#fbbd4e" fill-opacity="0.5"/>
<circle cx="543.7" cy="460.8" r="2.15" fill="#fbbd4e" fill-opacity="0.5"/>
<circle cx="543.7" cy="460.8" r="2.15" fill="#fbbd4e" fill-opacity="0.5"/>
<circle cx="543.7" cy="470.2" r="2.15" fill="#fbbd4e" fill-opacity="0.5"/>
<circle cx="548.2" cy="471.2" r="2.15" fill="#fbbd4e" fill-opacity="0.5"/>
<circle cx="548.2" cy="475.1" r="2.15" fill="#fbbd4e" fill-opacity="0.5"/>
<circle cx="552.7" cy="470.2" r="2.15" fill="#fbbd4e" fill-opacity="0.5"/>
<circle cx="552.7" cy="477.6" r="2.15" fill="#fbbd4e" fill-opacity="0.5"/>
<circle cx="552.7" cy="480.1" r="2.15" fill="#fbbd4e" fill-opacity="0.5"/>
<circle cx="552.7" cy="480.1" r="2.15" fill="#fbbd4e" fill-opacity="0.5"/>
<circle cx="552.7" cy="489.9" r="2.15" fill="#fbbd4e" fill-opacity="0.5"/>
<circle cx="557.2" cy="475.1" r="2.15" fill="#fbbd4e" fill-opacity="0.5"/>
<circle cx="557.2" cy="480.1" r="2.15" fill="#fbbd4e" fill-opacity="0.5"/>
<circle cx="561.8" cy="470.2" r="2.15" fill="#fbbd4e" fill-opacity="0.5"/>
<circle cx="566.3" cy="460.3" r="2.15" fill="#fbbd4e" fill-opacity="0.5"/>
<circle cx="575.3" cy="455.4" r="2.15" fill="#fbbd4e" fill-opacity="0.5"/>
<circle cx="575.3" cy="465.3" r="2.15" fill="#fbbd4e" fill-opacity="0.5"/>
<circle cx="575.3" cy="465.3" r="2.15" fill="#fbbd4e" fill-opacity="0.5"/>
<circle cx="575.3" cy="471.2" r="2.15" fill="#fbbd4e" fill-opacity="0.5"/>
<circle cx="575.3" cy="475.1" r="2.15" fill="#fbbd4e" fill-opacity="0.5"/>
<circle cx="575.3" cy="480.1" r="2.15" fill="#fbbd4e" fill-opacity="0.5"/>
<circle cx="579.8" cy="465.3" r="2.15" fill="#fbbd4e" fill-opacity="0.5"/>
<circle cx="579.8" cy="475.1" r="2.15" fill="#fbbd4e" fill-opacity="0.5"/>
<circle cx="579.8" cy="485.0" r="2.15" fill="#fbbd4e" fill-opacity="0.5"/>
<circle cx="579.8" cy="485.0" r="2.15" fill="#fbbd4e" fill-opacity="0.5"/>
<circle cx="588.9" cy="475.1" r="2.15" fill="#fbbd4e" fill-opacity="0.5"/>
<circle cx="593.4" cy="465.3" r="2.15" fill="#fbbd4e" fill-opacity="0.5"/>
<circle cx="593.4" cy="480.1" r="2.15" fill="#fbbd4e" fill-opacity="0.5"/>
<circle cx="593.4" cy="480.1" r="2.15" fill="#fbbd4e" fill-opacity="0.5"/>
<circle cx="602.4" cy="470.2" r="2.15" fill="#fbbd4e" fill-opacity="0.5"/>
<circle cx="602.4" cy="485.0" r="2.15" fill="#fbbd4e" fill-opacity="0.5"/>
<circle cx="606.9" cy="470.2" r="2.15" fill="#fbbd4e" fill-opacity="0.5"/>
<circle cx="606.9" cy="476.6" r="2.15" fill="#fbbd4e" fill-opacity="0.5"/>
<circle cx="611.5" cy="460.3" r="2.15" fill="#fbbd4e" fill-opacity="0.5"/>
<circle cx="611.5" cy="460.3" r="2.15" fill="#fbbd4e" fill-opacity="0.5"/>
<circle cx="611.5" cy="470.2" r="2.15" fill="#fbbd4e" fill-opacity="0.5"/>
<circle cx="616.0" cy="475.1" r="2.15" fill="#fbbd4e" fill-opacity="0.5"/>
<circle cx="616.0" cy="480.1" r="2.15" fill="#fbbd4e" fill-opacity="0.5"/>
<circle cx="620.5" cy="475.1" r="2.15" fill="#fbbd4e" fill-opacity="0.5"/>
<circle cx="620.5" cy="480.6" r="2.15" fill="#fbbd4e" fill-opacity="0.5"/>
<circle cx="625.0" cy="470.2" r="2.15" fill="#fbbd4e" fill-opacity="0.5"/>
<circle cx="625.0" cy="475.1" r="2.15" fill="#fbbd4e" fill-opacity="0.5"/>
<circle cx="625.0" cy="480.1" r="2.15" fill="#fbbd4e" fill-opacity="0.5"/>
<circle cx="625.0" cy="485.0" r="2.15" fill="#fbbd4e" fill-opacity="0.5"/>
<circle cx="629.5" cy="475.1" r="2.15" fill="#fbbd4e" fill-opacity="0.5"/>
<circle cx="629.5" cy="485.0" r="2.15" fill="#fbbd4e" fill-opacity="0.5"/>
<circle cx="634.1" cy="460.3" r="2.15" fill="#fbbd4e" fill-opacity="0.5"/>
<circle cx="638.6" cy="470.2" r="2.15" fill="#fbbd4e" fill-opacity="0.5"/>
<circle cx="638.6" cy="470.2" r="2.15" fill="#fbbd4e" fill-opacity="0.5"/>
<circle cx="638.6" cy="485.0" r="2.15" fill="#fbbd4e" fill-opacity="0.5"/>
<circle cx="638.6" cy="485.0" r="2.15" fill="#fbbd4e" fill-opacity="0.5"/>
<circle cx="643.1" cy="470.2" r="2.15" fill="#fbbd4e" fill-opacity="0.5"/>
<circle cx="643.1" cy="475.1" r="2.15" fill="#fbbd4e" fill-opacity="0.5"/>
<circle cx="643.1" cy="480.1" r="2.15" fill="#fbbd4e" fill-opacity="0.5"/>
<circle cx="643.1" cy="485.0" r="2.15" fill="#fbbd4e" fill-opacity="0.5"/>
<circle cx="647.6" cy="475.1" r="2.15" fill="#fbbd4e" fill-opacity="0.5"/>
<circle cx="647.6" cy="480.1" r="2.15" fill="#fbbd4e" fill-opacity="0.5"/>
<circle cx="652.1" cy="480.1" r="2.15" fill="#fbbd4e" fill-opacity="0.5"/>
<circle cx="656.7" cy="465.3" r="2.15" fill="#fbbd4e" fill-opacity="0.5"/>
<circle cx="661.2" cy="485.0" r="2.15" fill="#fbbd4e" fill-opacity="0.5"/>
<circle cx="665.7" cy="474.6" r="2.15" fill="#fbbd4e" fill-opacity="0.5"/>
<circle cx="665.7" cy="477.1" r="2.15" fill="#fbbd4e" fill-opacity="0.5"/>
<circle cx="670.2" cy="475.1" r="2.15" fill="#fbbd4e" fill-opacity="0.5"/>
<circle cx="670.2" cy="475.1" r="2.15" fill="#fbbd4e" fill-opacity="0.5"/>
<circle cx="670.2" cy="485.0" r="2.15" fill="#fbbd4e" fill-opacity="0.5"/>
<circle cx="670.2" cy="494.9" r="2.15" fill="#fbbd4e" fill-opacity="0.5"/>
<circle cx="674.7" cy="475.1" r="2.15" fill="#fbbd4e" fill-opacity="0.5"/>
<circle cx="674.7" cy="477.6" r="2.15" fill="#fbbd4e" fill-opacity="0.5"/>
<circle cx="674.7" cy="485.0" r="2.15" fill="#fbbd4e" fill-opacity="0.5"/>
<circle cx="674.7" cy="485.0" r="2.15" fill="#fbbd4e" fill-opacity="0.5"/>
<circle cx="674.7" cy="490.4" r="2.15" fill="#fbbd4e" fill-opacity="0.5"/>
<circle cx="679.3" cy="475.1" r="2.15" fill="#fbbd4e" fill-opacity="0.5"/>
<circle cx="683.8" cy="472.2" r="2.15" fill="#fbbd4e" fill-opacity="0.5"/>
<circle cx="683.8" cy="489.9" r="2.15" fill="#fbbd4e" fill-opacity="0.5"/>
<circle cx="683.8" cy="499.8" r="2.15" fill="#fbbd4e" fill-opacity="0.5"/>
<circle cx="688.3" cy="479.1" r="2.15" fill="#fbbd4e" fill-opacity="0.5"/>
<circle cx="688.3" cy="489.9" r="2.15" fill="#fbbd4e" fill-opacity="0.5"/>
<circle cx="688.3" cy="494.9" r="2.15" fill="#fbbd4e" fill-opacity="0.5"/>
<circle cx="692.8" cy="470.2" r="2.15" fill="#fbbd4e" fill-opacity="0.5"/>
<circle cx="692.8" cy="476.1" r="2.15" fill="#fbbd4e" fill-opacity="0.5"/>
<circle cx="692.8" cy="480.1" r="2.15" fill="#fbbd4e" fill-opacity="0.5"/>
<circle cx="701.9" cy="475.1" r="2.15" fill="#fbbd4e" fill-opacity="0.5"/>
<circle cx="701.9" cy="480.1" r="2.15" fill="#fbbd4e" fill-opacity="0.5"/>
<circle cx="706.4" cy="479.6" r="2.15" fill="#fbbd4e" fill-opacity="0.5"/>
<circle cx="706.4" cy="494.9" r="2.15" fill="#fbbd4e" fill-opacity="0.5"/>
<circle cx="710.9" cy="471.7" r="2.15" fill="#fbbd4e" fill-opacity="0.5"/>
<circle cx="710.9" cy="480.1" r="2.15" fill="#fbbd4e" fill-opacity="0.5"/>
<circle cx="710.9" cy="484.0" r="2.15" fill="#fbbd4e" fill-opacity="0.5"/>
<circle cx="710.9" cy="489.9" r="2.15" fill="#fbbd4e" fill-opacity="0.5"/>
<circle cx="715.4" cy="490.9" r="2.15" fill="#fbbd4e" fill-opacity="0.5"/>
<circle cx="51.0" cy="331.9" r="2.15" fill="#ff2d2d" fill-opacity="0.45"/>
<circle cx="69.1" cy="322.1" r="2.15" fill="#ff2d2d" fill-opacity="0.45"/>
<circle cx="73.6" cy="327.0" r="2.15" fill="#ff2d2d" fill-opacity="0.45"/>
<circle cx="73.6" cy="336.9" r="2.15" fill="#ff2d2d" fill-opacity="0.45"/>
<circle cx="82.7" cy="317.1" r="2.15" fill="#ff2d2d" fill-opacity="0.45"/>
<circle cx="96.2" cy="312.2" r="2.15" fill="#ff2d2d" fill-opacity="0.45"/>
<circle cx="100.8" cy="322.1" r="2.15" fill="#ff2d2d" fill-opacity="0.45"/>
<circle cx="100.8" cy="327.0" r="2.15" fill="#ff2d2d" fill-opacity="0.45"/>
<circle cx="105.3" cy="307.3" r="2.15" fill="#ff2d2d" fill-opacity="0.45"/>
<circle cx="105.3" cy="317.1" r="2.15" fill="#ff2d2d" fill-opacity="0.45"/>
<circle cx="109.8" cy="317.1" r="2.15" fill="#ff2d2d" fill-opacity="0.45"/>
<circle cx="118.8" cy="322.1" r="2.15" fill="#ff2d2d" fill-opacity="0.45"/>
<circle cx="123.4" cy="336.9" r="2.15" fill="#ff2d2d" fill-opacity="0.45"/>
<circle cx="136.9" cy="327.0" r="2.15" fill="#ff2d2d" fill-opacity="0.45"/>
<circle cx="141.4" cy="327.0" r="2.15" fill="#ff2d2d" fill-opacity="0.45"/>
<circle cx="136.9" cy="336.9" r="2.15" fill="#ff2d2d" fill-opacity="0.45"/>
<circle cx="146.0" cy="336.9" r="2.15" fill="#ff2d2d" fill-opacity="0.45"/>
<circle cx="146.0" cy="297.4" r="2.15" fill="#ff2d2d" fill-opacity="0.45"/>
<circle cx="146.0" cy="331.9" r="2.15" fill="#ff2d2d" fill-opacity="0.45"/>
<circle cx="173.1" cy="287.5" r="2.15" fill="#ff2d2d" fill-opacity="0.45"/>
<circle cx="164.0" cy="322.1" r="2.15" fill="#ff2d2d" fill-opacity="0.45"/>
<circle cx="177.6" cy="322.1" r="2.15" fill="#ff2d2d" fill-opacity="0.45"/>
<circle cx="173.1" cy="331.9" r="2.15" fill="#ff2d2d" fill-opacity="0.45"/>
<circle cx="168.6" cy="338.9" r="2.15" fill="#ff2d2d" fill-opacity="0.45"/>
<circle cx="191.2" cy="336.9" r="2.15" fill="#ff2d2d" fill-opacity="0.45"/>
<circle cx="191.2" cy="336.9" r="2.15" fill="#ff2d2d" fill-opacity="0.45"/>
<circle cx="195.7" cy="321.6" r="2.15" fill="#ff2d2d" fill-opacity="0.45"/>
<circle cx="195.7" cy="327.0" r="2.15" fill="#ff2d2d" fill-opacity="0.45"/>
<circle cx="200.2" cy="327.0" r="2.15" fill="#ff2d2d" fill-opacity="0.45"/>
<circle cx="200.2" cy="331.9" r="2.15" fill="#ff2d2d" fill-opacity="0.45"/>
<circle cx="209.2" cy="292.4" r="2.15" fill="#ff2d2d" fill-opacity="0.45"/>
<circle cx="209.2" cy="295.9" r="2.15" fill="#ff2d2d" fill-opacity="0.45"/>
<circle cx="209.2" cy="336.9" r="2.15" fill="#ff2d2d" fill-opacity="0.45"/>
<circle cx="213.8" cy="317.1" r="2.15" fill="#ff2d2d" fill-opacity="0.45"/>
<circle cx="218.3" cy="336.9" r="2.15" fill="#ff2d2d" fill-opacity="0.45"/>
<circle cx="222.8" cy="336.9" r="2.15" fill="#ff2d2d" fill-opacity="0.45"/>
<circle cx="222.8" cy="297.4" r="2.15" fill="#ff2d2d" fill-opacity="0.45"/>
<circle cx="222.8" cy="327.0" r="2.15" fill="#ff2d2d" fill-opacity="0.45"/>
<circle cx="227.3" cy="327.0" r="2.15" fill="#ff2d2d" fill-opacity="0.45"/>
<circle cx="231.8" cy="312.2" r="2.15" fill="#ff2d2d" fill-opacity="0.45"/>
<circle cx="236.3" cy="297.4" r="2.15" fill="#ff2d2d" fill-opacity="0.45"/>
<circle cx="236.3" cy="297.4" r="2.15" fill="#ff2d2d" fill-opacity="0.45"/>
<circle cx="236.3" cy="334.4" r="2.15" fill="#ff2d2d" fill-opacity="0.45"/>
<circle cx="240.9" cy="302.3" r="2.15" fill="#ff2d2d" fill-opacity="0.45"/>
<circle cx="249.9" cy="307.3" r="2.15" fill="#ff2d2d" fill-opacity="0.45"/>
<circle cx="258.9" cy="292.4" r="2.15" fill="#ff2d2d" fill-opacity="0.45"/>
<circle cx="258.9" cy="292.4" r="2.15" fill="#ff2d2d" fill-opacity="0.45"/>
<circle cx="258.9" cy="302.3" r="2.15" fill="#ff2d2d" fill-opacity="0.45"/>
<circle cx="258.9" cy="322.1" r="2.15" fill="#ff2d2d" fill-opacity="0.45"/>
<circle cx="258.9" cy="324.5" r="2.15" fill="#ff2d2d" fill-opacity="0.45"/>
<circle cx="272.5" cy="302.3" r="2.15" fill="#ff2d2d" fill-opacity="0.45"/>
<circle cx="281.5" cy="331.9" r="2.15" fill="#ff2d2d" fill-opacity="0.45"/>
<circle cx="286.1" cy="331.9" r="2.15" fill="#ff2d2d" fill-opacity="0.45"/>
<circle cx="290.6" cy="322.1" r="2.15" fill="#ff2d2d" fill-opacity="0.45"/>
<circle cx="290.6" cy="322.1" r="2.15" fill="#ff2d2d" fill-opacity="0.45"/>
<circle cx="290.6" cy="327.0" r="2.15" fill="#ff2d2d" fill-opacity="0.45"/>
<circle cx="295.1" cy="331.9" r="2.15" fill="#ff2d2d" fill-opacity="0.45"/>
<circle cx="299.6" cy="284.5" r="2.15" fill="#ff2d2d" fill-opacity="0.45"/>
<circle cx="299.6" cy="336.9" r="2.15" fill="#ff2d2d" fill-opacity="0.45"/>
<circle cx="299.6" cy="336.9" r="2.15" fill="#ff2d2d" fill-opacity="0.45"/>
<circle cx="304.1" cy="306.3" r="2.15" fill="#ff2d2d" fill-opacity="0.45"/>
<circle cx="304.1" cy="324.5" r="2.15" fill="#ff2d2d" fill-opacity="0.45"/>
<circle cx="308.7" cy="312.2" r="2.15" fill="#ff2d2d" fill-opacity="0.45"/>
<circle cx="308.7" cy="331.9" r="2.15" fill="#ff2d2d" fill-opacity="0.45"/>
<circle cx="308.7" cy="336.9" r="2.15" fill="#ff2d2d" fill-opacity="0.45"/>
<circle cx="322.2" cy="317.1" r="2.15" fill="#ff2d2d" fill-opacity="0.45"/>
<circle cx="322.2" cy="327.0" r="2.15" fill="#ff2d2d" fill-opacity="0.45"/>
<circle cx="326.7" cy="282.6" r="2.15" fill="#ff2d2d" fill-opacity="0.45"/>
<circle cx="326.7" cy="312.2" r="2.15" fill="#ff2d2d" fill-opacity="0.45"/>
<circle cx="326.7" cy="339.4" r="2.15" fill="#ff2d2d" fill-opacity="0.45"/>
<circle cx="331.3" cy="282.6" r="2.15" fill="#ff2d2d" fill-opacity="0.45"/>
<circle cx="331.3" cy="327.0" r="2.15" fill="#ff2d2d" fill-opacity="0.45"/>
<circle cx="331.3" cy="331.9" r="2.15" fill="#ff2d2d" fill-opacity="0.45"/>
<circle cx="331.3" cy="331.9" r="2.15" fill="#ff2d2d" fill-opacity="0.45"/>
<circle cx="335.8" cy="295.4" r="2.15" fill="#ff2d2d" fill-opacity="0.45"/>
<circle cx="335.8" cy="312.2" r="2.15" fill="#ff2d2d" fill-opacity="0.45"/>
<circle cx="340.3" cy="327.0" r="2.15" fill="#ff2d2d" fill-opacity="0.45"/>
<circle cx="349.3" cy="331.9" r="2.15" fill="#ff2d2d" fill-opacity="0.45"/>
<circle cx="349.3" cy="336.9" r="2.15" fill="#ff2d2d" fill-opacity="0.45"/>
<circle cx="353.9" cy="327.0" r="2.15" fill="#ff2d2d" fill-opacity="0.45"/>
<circle cx="358.4" cy="302.3" r="2.15" fill="#ff2d2d" fill-opacity="0.45"/>
<circle cx="358.4" cy="327.0" r="2.15" fill="#ff2d2d" fill-opacity="0.45"/>
<circle cx="362.9" cy="290.5" r="2.15" fill="#ff2d2d" fill-opacity="0.45"/>
<circle cx="362.9" cy="317.1" r="2.15" fill="#ff2d2d" fill-opacity="0.45"/>
<circle cx="362.9" cy="336.9" r="2.15" fill="#ff2d2d" fill-opacity="0.45"/>
<circle cx="362.9" cy="336.9" r="2.15" fill="#ff2d2d" fill-opacity="0.45"/>
<circle cx="367.4" cy="327.0" r="2.15" fill="#ff2d2d" fill-opacity="0.45"/>
<circle cx="381.0" cy="331.9" r="2.15" fill="#ff2d2d" fill-opacity="0.45"/>
<circle cx="381.0" cy="331.9" r="2.15" fill="#ff2d2d" fill-opacity="0.45"/>
<circle cx="385.5" cy="322.1" r="2.15" fill="#ff2d2d" fill-opacity="0.45"/>
<circle cx="394.5" cy="307.3" r="2.15" fill="#ff2d2d" fill-opacity="0.45"/>
<circle cx="394.5" cy="322.1" r="2.15" fill="#ff2d2d" fill-opacity="0.45"/>
<circle cx="394.5" cy="331.9" r="2.15" fill="#ff2d2d" fill-opacity="0.45"/>
<circle cx="394.5" cy="338.9" r="2.15" fill="#ff2d2d" fill-opacity="0.45"/>
<circle cx="399.1" cy="322.1" r="2.15" fill="#ff2d2d" fill-opacity="0.45"/>
<circle cx="399.1" cy="322.1" r="2.15" fill="#ff2d2d" fill-opacity="0.45"/>
<circle cx="408.1" cy="327.0" r="2.15" fill="#ff2d2d" fill-opacity="0.45"/>
<circle cx="408.1" cy="331.9" r="2.15" fill="#ff2d2d" fill-opacity="0.45"/>
<circle cx="417.1" cy="320.1" r="2.15" fill="#ff2d2d" fill-opacity="0.45"/>
<circle cx="417.1" cy="327.0" r="2.15" fill="#ff2d2d" fill-opacity="0.45"/>
<circle cx="417.1" cy="327.0" r="2.15" fill="#ff2d2d" fill-opacity="0.45"/>
<circle cx="421.6" cy="327.0" r="2.15" fill="#ff2d2d" fill-opacity="0.45"/>
<circle cx="421.6" cy="327.0" r="2.15" fill="#ff2d2d" fill-opacity="0.45"/>
<circle cx="421.6" cy="336.9" r="2.15" fill="#ff2d2d" fill-opacity="0.45"/>
<circle cx="426.2" cy="281.6" r="2.15" fill="#ff2d2d" fill-opacity="0.45"/>
<circle cx="426.2" cy="312.2" r="2.15" fill="#ff2d2d" fill-opacity="0.45"/>
<circle cx="430.7" cy="287.5" r="2.15" fill="#ff2d2d" fill-opacity="0.45"/>
<circle cx="435.2" cy="312.2" r="2.15" fill="#ff2d2d" fill-opacity="0.45"/>
<circle cx="439.7" cy="331.9" r="2.15" fill="#ff2d2d" fill-opacity="0.45"/>
<circle cx="448.8" cy="287.5" r="2.15" fill="#ff2d2d" fill-opacity="0.45"/>
<circle cx="448.8" cy="305.3" r="2.15" fill="#ff2d2d" fill-opacity="0.45"/>
<circle cx="448.8" cy="327.0" r="2.15" fill="#ff2d2d" fill-opacity="0.45"/>
<circle cx="457.8" cy="322.1" r="2.15" fill="#ff2d2d" fill-opacity="0.45"/>
<circle cx="462.3" cy="294.9" r="2.15" fill="#ff2d2d" fill-opacity="0.45"/>
<circle cx="462.3" cy="337.9" r="2.15" fill="#ff2d2d" fill-opacity="0.45"/>
<circle cx="466.8" cy="312.2" r="2.15" fill="#ff2d2d" fill-opacity="0.45"/>
<circle cx="466.8" cy="317.1" r="2.15" fill="#ff2d2d" fill-opacity="0.45"/>
<circle cx="466.8" cy="331.9" r="2.15" fill="#ff2d2d" fill-opacity="0.45"/>
<circle cx="480.4" cy="312.2" r="2.15" fill="#ff2d2d" fill-opacity="0.45"/>
<circle cx="480.4" cy="327.0" r="2.15" fill="#ff2d2d" fill-opacity="0.45"/>
<circle cx="484.9" cy="322.1" r="2.15" fill="#ff2d2d" fill-opacity="0.45"/>
<circle cx="484.9" cy="336.9" r="2.15" fill="#ff2d2d" fill-opacity="0.45"/>
<circle cx="489.4" cy="297.4" r="2.15" fill="#ff2d2d" fill-opacity="0.45"/>
<circle cx="489.4" cy="317.1" r="2.15" fill="#ff2d2d" fill-opacity="0.45"/>
<circle cx="494.0" cy="331.9" r="2.15" fill="#ff2d2d" fill-opacity="0.45"/>
<circle cx="494.0" cy="312.2" r="2.15" fill="#ff2d2d" fill-opacity="0.45"/>
<circle cx="503.0" cy="307.3" r="2.15" fill="#ff2d2d" fill-opacity="0.45"/>
<circle cx="503.0" cy="336.9" r="2.15" fill="#ff2d2d" fill-opacity="0.45"/>
<circle cx="507.5" cy="320.1" r="2.15" fill="#ff2d2d" fill-opacity="0.45"/>
<circle cx="507.5" cy="322.1" r="2.15" fill="#ff2d2d" fill-opacity="0.45"/>
<circle cx="516.6" cy="317.1" r="2.15" fill="#ff2d2d" fill-opacity="0.45"/>
<circle cx="516.6" cy="322.1" r="2.15" fill="#ff2d2d" fill-opacity="0.45"/>
<circle cx="516.6" cy="327.0" r="2.15" fill="#ff2d2d" fill-opacity="0.45"/>
<circle cx="516.6" cy="327.0" r="2.15" fill="#ff2d2d" fill-opacity="0.45"/>
<circle cx="521.1" cy="307.3" r="2.15" fill="#ff2d2d" fill-opacity="0.45"/>
<circle cx="521.1" cy="312.2" r="2.15" fill="#ff2d2d" fill-opacity="0.45"/>
<circle cx="521.1" cy="317.1" r="2.15" fill="#ff2d2d" fill-opacity="0.45"/>
<circle cx="521.1" cy="338.4" r="2.15" fill="#ff2d2d" fill-opacity="0.45"/>
<circle cx="525.6" cy="285.0" r="2.15" fill="#ff2d2d" fill-opacity="0.45"/>
<circle cx="525.6" cy="292.4" r="2.15" fill="#ff2d2d" fill-opacity="0.45"/>
<circle cx="530.1" cy="292.4" r="2.15" fill="#ff2d2d" fill-opacity="0.45"/>
<circle cx="530.1" cy="297.4" r="2.15" fill="#ff2d2d" fill-opacity="0.45"/>
<circle cx="530.1" cy="332.9" r="2.15" fill="#ff2d2d" fill-opacity="0.45"/>
<circle cx="534.6" cy="307.3" r="2.15" fill="#ff2d2d" fill-opacity="0.45"/>
<circle cx="534.6" cy="322.1" r="2.15" fill="#ff2d2d" fill-opacity="0.45"/>
<circle cx="539.2" cy="297.4" r="2.15" fill="#ff2d2d" fill-opacity="0.45"/>
<circle cx="539.2" cy="317.1" r="2.15" fill="#ff2d2d" fill-opacity="0.45"/>
<circle cx="543.7" cy="302.3" r="2.15" fill="#ff2d2d" fill-opacity="0.45"/>
<circle cx="543.7" cy="312.2" r="2.15" fill="#ff2d2d" fill-opacity="0.45"/>
<circle cx="548.2" cy="317.1" r="2.15" fill="#ff2d2d" fill-opacity="0.45"/>
<circle cx="548.2" cy="338.4" r="2.15" fill="#ff2d2d" fill-opacity="0.45"/>
<circle cx="552.7" cy="297.4" r="2.15" fill="#ff2d2d" fill-opacity="0.45"/>
<circle cx="552.7" cy="317.1" r="2.15" fill="#ff2d2d" fill-opacity="0.45"/>
<circle cx="552.7" cy="322.1" r="2.15" fill="#ff2d2d" fill-opacity="0.45"/>
<circle cx="552.7" cy="322.1" r="2.15" fill="#ff2d2d" fill-opacity="0.45"/>
<circle cx="557.2" cy="279.6" r="2.15" fill="#ff2d2d" fill-opacity="0.45"/>
<circle cx="557.2" cy="312.2" r="2.15" fill="#ff2d2d" fill-opacity="0.45"/>
<circle cx="561.8" cy="312.2" r="2.15" fill="#ff2d2d" fill-opacity="0.45"/>
<circle cx="561.8" cy="336.9" r="2.15" fill="#ff2d2d" fill-opacity="0.45"/>
<circle cx="575.3" cy="307.3" r="2.15" fill="#ff2d2d" fill-opacity="0.45"/>
<circle cx="575.3" cy="312.2" r="2.15" fill="#ff2d2d" fill-opacity="0.45"/>
<circle cx="575.3" cy="328.5" r="2.15" fill="#ff2d2d" fill-opacity="0.45"/>
<circle cx="575.3" cy="331.9" r="2.15" fill="#ff2d2d" fill-opacity="0.45"/>
<circle cx="575.3" cy="331.9" r="2.15" fill="#ff2d2d" fill-opacity="0.45"/>
<circle cx="575.3" cy="317.1" r="2.15" fill="#ff2d2d" fill-opacity="0.45"/>
<circle cx="588.9" cy="279.6" r="2.15" fill="#ff2d2d" fill-opacity="0.45"/>
<circle cx="579.8" cy="307.3" r="2.15" fill="#ff2d2d" fill-opacity="0.45"/>
<circle cx="579.8" cy="312.2" r="2.15" fill="#ff2d2d" fill-opacity="0.45"/>
<circle cx="588.9" cy="336.9" r="2.15" fill="#ff2d2d" fill-opacity="0.45"/>
<circle cx="593.4" cy="302.3" r="2.15" fill="#ff2d2d" fill-opacity="0.45"/>
<circle cx="593.4" cy="302.3" r="2.15" fill="#ff2d2d" fill-opacity="0.45"/>
<circle cx="593.4" cy="317.1" r="2.15" fill="#ff2d2d" fill-opacity="0.45"/>
<circle cx="597.9" cy="325.5" r="2.15" fill="#ff2d2d" fill-opacity="0.45"/>
<circle cx="602.4" cy="322.1" r="2.15" fill="#ff2d2d" fill-opacity="0.45"/>
<circle cx="602.4" cy="322.1" r="2.15" fill="#ff2d2d" fill-opacity="0.45"/>
<circle cx="602.4" cy="331.9" r="2.15" fill="#ff2d2d" fill-opacity="0.45"/>
<circle cx="606.9" cy="307.3" r="2.15" fill="#ff2d2d" fill-opacity="0.45"/>
<circle cx="606.9" cy="322.1" r="2.15" fill="#ff2d2d" fill-opacity="0.45"/>
<circle cx="611.5" cy="317.1" r="2.15" fill="#ff2d2d" fill-opacity="0.45"/>
<circle cx="611.5" cy="327.0" r="2.15" fill="#ff2d2d" fill-opacity="0.45"/>
<circle cx="611.5" cy="327.0" r="2.15" fill="#ff2d2d" fill-opacity="0.45"/>
<circle cx="616.0" cy="291.0" r="2.15" fill="#ff2d2d" fill-opacity="0.45"/>
<circle cx="616.0" cy="317.1" r="2.15" fill="#ff2d2d" fill-opacity="0.45"/>
<circle cx="616.0" cy="327.0" r="2.15" fill="#ff2d2d" fill-opacity="0.45"/>
<circle cx="616.0" cy="327.0" r="2.15" fill="#ff2d2d" fill-opacity="0.45"/>
<circle cx="620.5" cy="322.6" r="2.15" fill="#ff2d2d" fill-opacity="0.45"/>
<circle cx="620.5" cy="322.6" r="2.15" fill="#ff2d2d" fill-opacity="0.45"/>
<circle cx="625.0" cy="297.4" r="2.15" fill="#ff2d2d" fill-opacity="0.45"/>
<circle cx="625.0" cy="307.3" r="2.15" fill="#ff2d2d" fill-opacity="0.45"/>
<circle cx="625.0" cy="317.1" r="2.15" fill="#ff2d2d" fill-opacity="0.45"/>
<circle cx="625.0" cy="327.0" r="2.15" fill="#ff2d2d" fill-opacity="0.45"/>
<circle cx="629.5" cy="327.0" r="2.15" fill="#ff2d2d" fill-opacity="0.45"/>
<circle cx="629.5" cy="331.9" r="2.15" fill="#ff2d2d" fill-opacity="0.45"/>
<circle cx="634.1" cy="331.9" r="2.15" fill="#ff2d2d" fill-opacity="0.45"/>
<circle cx="638.6" cy="307.3" r="2.15" fill="#ff2d2d" fill-opacity="0.45"/>
<circle cx="638.6" cy="312.2" r="2.15" fill="#ff2d2d" fill-opacity="0.45"/>
<circle cx="638.6" cy="322.1" r="2.15" fill="#ff2d2d" fill-opacity="0.45"/>
<circle cx="638.6" cy="322.1" r="2.15" fill="#ff2d2d" fill-opacity="0.45"/>
<circle cx="643.1" cy="317.1" r="2.15" fill="#ff2d2d" fill-opacity="0.45"/>
<circle cx="643.1" cy="322.6" r="2.15" fill="#ff2d2d" fill-opacity="0.45"/>
<circle cx="643.1" cy="331.9" r="2.15" fill="#ff2d2d" fill-opacity="0.45"/>
<circle cx="643.1" cy="331.9" r="2.15" fill="#ff2d2d" fill-opacity="0.45"/>
<circle cx="647.6" cy="281.1" r="2.15" fill="#ff2d2d" fill-opacity="0.45"/>
<circle cx="647.6" cy="312.2" r="2.15" fill="#ff2d2d" fill-opacity="0.45"/>
<circle cx="647.6" cy="322.1" r="2.15" fill="#ff2d2d" fill-opacity="0.45"/>
<circle cx="647.6" cy="322.1" r="2.15" fill="#ff2d2d" fill-opacity="0.45"/>
<circle cx="652.1" cy="290.0" r="2.15" fill="#ff2d2d" fill-opacity="0.45"/>
<circle cx="652.1" cy="297.4" r="2.15" fill="#ff2d2d" fill-opacity="0.45"/>
<circle cx="656.7" cy="327.0" r="2.15" fill="#ff2d2d" fill-opacity="0.45"/>
<circle cx="656.7" cy="331.9" r="2.15" fill="#ff2d2d" fill-opacity="0.45"/>
<circle cx="661.2" cy="312.2" r="2.15" fill="#ff2d2d" fill-opacity="0.45"/>
<circle cx="665.7" cy="298.9" r="2.15" fill="#ff2d2d" fill-opacity="0.45"/>
<circle cx="665.7" cy="333.9" r="2.15" fill="#ff2d2d" fill-opacity="0.45"/>
<circle cx="670.2" cy="292.4" r="2.15" fill="#ff2d2d" fill-opacity="0.45"/>
<circle cx="670.2" cy="307.3" r="2.15" fill="#ff2d2d" fill-opacity="0.45"/>
<circle cx="670.2" cy="312.2" r="2.15" fill="#ff2d2d" fill-opacity="0.45"/>
<circle cx="670.2" cy="322.1" r="2.15" fill="#ff2d2d" fill-opacity="0.45"/>
<circle cx="670.2" cy="322.1" r="2.15" fill="#ff2d2d" fill-opacity="0.45"/>
<circle cx="674.7" cy="302.3" r="2.15" fill="#ff2d2d" fill-opacity="0.45"/>
<circle cx="674.7" cy="322.6" r="2.15" fill="#ff2d2d" fill-opacity="0.45"/>
<circle cx="674.7" cy="327.0" r="2.15" fill="#ff2d2d" fill-opacity="0.45"/>
<circle cx="679.3" cy="307.3" r="2.15" fill="#ff2d2d" fill-opacity="0.45"/>
<circle cx="679.3" cy="279.1" r="2.15" fill="#ff2d2d" fill-opacity="0.45"/>
<circle cx="683.8" cy="286.0" r="2.15" fill="#ff2d2d" fill-opacity="0.45"/>
<circle cx="683.8" cy="286.0" r="2.15" fill="#ff2d2d" fill-opacity="0.45"/>
<circle cx="683.8" cy="307.3" r="2.15" fill="#ff2d2d" fill-opacity="0.45"/>
<circle cx="683.8" cy="317.1" r="2.15" fill="#ff2d2d" fill-opacity="0.45"/>
<circle cx="688.3" cy="287.0" r="2.15" fill="#ff2d2d" fill-opacity="0.45"/>
<circle cx="688.3" cy="287.0" r="2.15" fill="#ff2d2d" fill-opacity="0.45"/>
<circle cx="688.3" cy="328.5" r="2.15" fill="#ff2d2d" fill-opacity="0.45"/>
<circle cx="692.8" cy="308.7" r="2.15" fill="#ff2d2d" fill-opacity="0.45"/>
<circle cx="692.8" cy="317.1" r="2.15" fill="#ff2d2d" fill-opacity="0.45"/>
<circle cx="697.3" cy="306.8" r="2.15" fill="#ff2d2d" fill-opacity="0.45"/>
<circle cx="701.9" cy="317.1" r="2.15" fill="#ff2d2d" fill-opacity="0.45"/>
<circle cx="710.9" cy="271.7" r="2.15" fill="#ff2d2d" fill-opacity="0.45"/>
<circle cx="715.4" cy="274.7" r="2.15" fill="#ff2d2d" fill-opacity="0.45"/>
<circle cx="710.9" cy="312.2" r="2.15" fill="#ff2d2d" fill-opacity="0.45"/>
<circle cx="710.9" cy="324.5" r="2.15" fill="#ff2d2d" fill-opacity="0.45"/>
<circle cx="87.2" cy="277.6" r="2.15" fill="#ff2d2d" fill-opacity="0.45"/>
<circle cx="249.9" cy="257.9" r="2.15" fill="#ff2d2d" fill-opacity="0.45"/>
<circle cx="268.0" cy="267.8" r="2.15" fill="#ff2d2d" fill-opacity="0.45"/>
<circle cx="272.5" cy="275.2" r="2.15" fill="#ff2d2d" fill-opacity="0.45"/>
<circle cx="394.5" cy="270.7" r="2.15" fill="#ff2d2d" fill-opacity="0.45"/>
<circle cx="457.8" cy="275.7" r="2.15" fill="#ff2d2d" fill-opacity="0.45"/>
<circle cx="489.4" cy="272.7" r="2.15" fill="#ff2d2d" fill-opacity="0.45"/>
<circle cx="494.0" cy="275.7" r="2.15" fill="#ff2d2d" fill-opacity="0.45"/>
<circle cx="521.1" cy="276.2" r="2.15" fill="#ff2d2d" fill-opacity="0.45"/>
<circle cx="552.7" cy="273.7" r="2.15" fill="#ff2d2d" fill-opacity="0.45"/>
<circle cx="584.4" cy="272.7" r="2.15" fill="#ff2d2d" fill-opacity="0.45"/>
<circle cx="55.6" cy="346.8" r="2.15" fill="#ff2d2d" fill-opacity="0.45"/>
<circle cx="87.2" cy="346.8" r="2.15" fill="#ff2d2d" fill-opacity="0.45"/>
<circle cx="100.8" cy="346.8" r="2.15" fill="#ff2d2d" fill-opacity="0.45"/>
<circle cx="123.4" cy="346.8" r="2.15" fill="#ff2d2d" fill-opacity="0.45"/>
<circle cx="146.0" cy="346.8" r="2.15" fill="#ff2d2d" fill-opacity="0.45"/>
<circle cx="73.6" cy="351.7" r="2.15" fill="#ff2d2d" fill-opacity="0.45"/>
<circle cx="78.2" cy="360.6" r="2.15" fill="#ff2d2d" fill-opacity="0.45"/>
<circle cx="55.6" cy="366.5" r="2.15" fill="#ff2d2d" fill-opacity="0.45"/>
<circle cx="249.9" cy="341.8" r="2.15" fill="#ff2d2d" fill-opacity="0.45"/>
<circle cx="213.8" cy="356.6" r="2.15" fill="#ff2d2d" fill-opacity="0.45"/>
<circle cx="191.2" cy="366.5" r="2.15" fill="#ff2d2d" fill-opacity="0.45"/>
<circle cx="272.5" cy="341.8" r="2.15" fill="#ff2d2d" fill-opacity="0.45"/>
<circle cx="281.5" cy="356.6" r="2.15" fill="#ff2d2d" fill-opacity="0.45"/>
<circle cx="304.1" cy="341.8" r="2.15" fill="#ff2d2d" fill-opacity="0.45"/>
<circle cx="304.1" cy="356.6" r="2.15" fill="#ff2d2d" fill-opacity="0.45"/>
<circle cx="313.2" cy="341.8" r="2.15" fill="#ff2d2d" fill-opacity="0.45"/>
<circle cx="313.2" cy="346.8" r="2.15" fill="#ff2d2d" fill-opacity="0.45"/>
<circle cx="326.7" cy="339.4" r="2.15" fill="#ff2d2d" fill-opacity="0.45"/>
<circle cx="326.7" cy="341.8" r="2.15" fill="#ff2d2d" fill-opacity="0.45"/>
<circle cx="331.3" cy="363.5" r="2.15" fill="#ff2d2d" fill-opacity="0.45"/>
<circle cx="353.9" cy="346.8" r="2.15" fill="#ff2d2d" fill-opacity="0.45"/>
<circle cx="353.9" cy="346.8" r="2.15" fill="#ff2d2d" fill-opacity="0.45"/>
<circle cx="362.9" cy="352.7" r="2.15" fill="#ff2d2d" fill-opacity="0.45"/>
<circle cx="371.9" cy="343.3" r="2.15" fill="#ff2d2d" fill-opacity="0.45"/>
<circle cx="376.5" cy="359.6" r="2.15" fill="#ff2d2d" fill-opacity="0.45"/>
<circle cx="394.5" cy="345.3" r="2.15" fill="#ff2d2d" fill-opacity="0.45"/>
<circle cx="403.6" cy="349.2" r="2.15" fill="#ff2d2d" fill-opacity="0.45"/>
<circle cx="426.2" cy="348.2" r="2.15" fill="#ff2d2d" fill-opacity="0.45"/>
<circle cx="435.2" cy="341.8" r="2.15" fill="#ff2d2d" fill-opacity="0.45"/>
<circle cx="439.7" cy="353.7" r="2.15" fill="#ff2d2d" fill-opacity="0.45"/>
<circle cx="457.8" cy="343.3" r="2.15" fill="#ff2d2d" fill-opacity="0.45"/>
<circle cx="489.4" cy="340.8" r="2.15" fill="#ff2d2d" fill-opacity="0.45"/>
<circle cx="543.7" cy="344.3" r="2.15" fill="#ff2d2d" fill-opacity="0.45"/>
<circle cx="566.3" cy="354.7" r="2.15" fill="#ff2d2d" fill-opacity="0.45"/>
<circle cx="579.8" cy="343.8" r="2.15" fill="#ff2d2d" fill-opacity="0.45"/>
<circle cx="606.9" cy="343.8" r="2.15" fill="#ff2d2d" fill-opacity="0.45"/>
<circle cx="629.5" cy="344.8" r="2.15" fill="#ff2d2d" fill-opacity="0.45"/>
<circle cx="629.5" cy="356.6" r="2.15" fill="#ff2d2d" fill-opacity="0.45"/>
<circle cx="652.1" cy="342.8" r="2.15" fill="#ff2d2d" fill-opacity="0.45"/>
<circle cx="674.7" cy="341.8" r="2.15" fill="#ff2d2d" fill-opacity="0.45"/>
<circle cx="674.7" cy="341.8" r="2.15" fill="#ff2d2d" fill-opacity="0.45"/>
<circle cx="683.8" cy="336.9" r="2.15" fill="#ff2d2d" fill-opacity="0.45"/>
<circle cx="706.4" cy="335.9" r="2.15" fill="#ff2d2d" fill-opacity="0.45"/>
<circle cx="710.9" cy="337.9" r="2.15" fill="#ff2d2d" fill-opacity="0.45"/>
<circle cx="105.3" cy="322.1" r="2.15" fill="#ff2d2d" fill-opacity="0.45"/>
<circle cx="118.8" cy="317.1" r="2.15" fill="#ff2d2d" fill-opacity="0.45"/>
<circle cx="141.4" cy="307.3" r="2.15" fill="#ff2d2d" fill-opacity="0.45"/>
<circle cx="146.0" cy="327.0" r="2.15" fill="#ff2d2d" fill-opacity="0.45"/>
<circle cx="173.1" cy="312.2" r="2.15" fill="#ff2d2d" fill-opacity="0.45"/>
<circle cx="204.7" cy="331.9" r="2.15" fill="#ff2d2d" fill-opacity="0.45"/>
<circle cx="222.8" cy="305.8" r="2.15" fill="#ff2d2d" fill-opacity="0.45"/>
<circle cx="227.3" cy="307.3" r="2.15" fill="#ff2d2d" fill-opacity="0.45"/>
<circle cx="227.3" cy="312.2" r="2.15" fill="#ff2d2d" fill-opacity="0.45"/>
<circle cx="240.9" cy="297.4" r="2.15" fill="#ff2d2d" fill-opacity="0.45"/>
<circle cx="258.9" cy="307.3" r="2.15" fill="#ff2d2d" fill-opacity="0.45"/>
<circle cx="258.9" cy="312.2" r="2.15" fill="#ff2d2d" fill-opacity="0.45"/>
<circle cx="286.1" cy="307.3" r="2.15" fill="#ff2d2d" fill-opacity="0.45"/>
<circle cx="304.1" cy="292.0" r="2.15" fill="#ff2d2d" fill-opacity="0.45"/>
<circle cx="340.3" cy="292.4" r="2.15" fill="#ff2d2d" fill-opacity="0.45"/>
<circle cx="362.9" cy="328.5" r="2.15" fill="#ff2d2d" fill-opacity="0.45"/>
<circle cx="367.4" cy="294.9" r="2.15" fill="#ff2d2d" fill-opacity="0.45"/>
<circle cx="381.0" cy="302.3" r="2.15" fill="#ff2d2d" fill-opacity="0.45"/>
<circle cx="399.1" cy="292.0" r="2.15" fill="#ff2d2d" fill-opacity="0.45"/>
<circle cx="417.1" cy="317.1" r="2.15" fill="#ff2d2d" fill-opacity="0.45"/>
<circle cx="426.2" cy="317.1" r="2.15" fill="#ff2d2d" fill-opacity="0.45"/>
<circle cx="435.2" cy="317.1" r="2.15" fill="#ff2d2d" fill-opacity="0.45"/>
<circle cx="466.8" cy="307.3" r="2.15" fill="#ff2d2d" fill-opacity="0.45"/>
<circle cx="489.4" cy="302.3" r="2.15" fill="#ff2d2d" fill-opacity="0.45"/>
<circle cx="489.4" cy="312.2" r="2.15" fill="#ff2d2d" fill-opacity="0.45"/>
<circle cx="521.1" cy="292.4" r="2.15" fill="#ff2d2d" fill-opacity="0.45"/>
<circle cx="543.7" cy="297.4" r="2.15" fill="#ff2d2d" fill-opacity="0.45"/>
<circle cx="552.7" cy="307.3" r="2.15" fill="#ff2d2d" fill-opacity="0.45"/>
<circle cx="575.3" cy="302.3" r="2.15" fill="#ff2d2d" fill-opacity="0.45"/>
<circle cx="579.8" cy="292.4" r="2.15" fill="#ff2d2d" fill-opacity="0.45"/>
<circle cx="620.5" cy="291.5" r="2.15" fill="#ff2d2d" fill-opacity="0.45"/>
<circle cx="656.7" cy="302.3" r="2.15" fill="#ff2d2d" fill-opacity="0.45"/>
<circle cx="652.1" cy="318.1" r="2.15" fill="#ff2d2d" fill-opacity="0.45"/>
<circle cx="706.4" cy="282.1" r="2.15" fill="#ff2d2d" fill-opacity="0.45"/>
<circle cx="710.9" cy="292.4" r="2.15" fill="#ff2d2d" fill-opacity="0.45"/>
<circle cx="710.9" cy="297.4" r="2.15" fill="#ff2d2d" fill-opacity="0.45"/>
<circle cx="715.4" cy="292.0" r="2.15" fill="#ff2d2d" fill-opacity="0.45"/>
<circle cx="141.4" cy="272.7" r="2.15" fill="#ff2d2d" fill-opacity="0.45"/>
<circle cx="670.2" cy="262.8" r="2.15" fill="#ff2d2d" fill-opacity="0.45"/>
<circle cx="55.6" cy="292.4" r="2.15" fill="#36a6df" fill-opacity="0.5"/>
<circle cx="51.0" cy="317.1" r="2.15" fill="#36a6df" fill-opacity="0.5"/>
<circle cx="55.6" cy="317.1" r="2.15" fill="#36a6df" fill-opacity="0.5"/>
<circle cx="73.6" cy="312.2" r="2.15" fill="#36a6df" fill-opacity="0.5"/>
<circle cx="73.6" cy="317.1" r="2.15" fill="#36a6df" fill-opacity="0.5"/>
<circle cx="69.1" cy="302.3" r="2.15" fill="#36a6df" fill-opacity="0.5"/>
<circle cx="78.2" cy="297.4" r="2.15" fill="#36a6df" fill-opacity="0.5"/>
<circle cx="82.7" cy="292.4" r="2.15" fill="#36a6df" fill-opacity="0.5"/>
<circle cx="87.2" cy="309.2" r="2.15" fill="#36a6df" fill-opacity="0.5"/>
<circle cx="96.2" cy="287.5" r="2.15" fill="#36a6df" fill-opacity="0.5"/>
<circle cx="100.8" cy="290.5" r="2.15" fill="#36a6df" fill-opacity="0.5"/>
<circle cx="100.8" cy="292.0" r="2.15" fill="#36a6df" fill-opacity="0.5"/>
<circle cx="100.8" cy="302.3" r="2.15" fill="#36a6df" fill-opacity="0.5"/>
<circle cx="105.3" cy="296.9" r="2.15" fill="#36a6df" fill-opacity="0.5"/>
<circle cx="109.8" cy="292.4" r="2.15" fill="#36a6df" fill-opacity="0.5"/>
<circle cx="123.4" cy="282.6" r="2.15" fill="#36a6df" fill-opacity="0.5"/>
<circle cx="123.4" cy="292.4" r="2.15" fill="#36a6df" fill-opacity="0.5"/>
<circle cx="132.4" cy="287.5" r="2.15" fill="#36a6df" fill-opacity="0.5"/>
<circle cx="132.4" cy="302.3" r="2.15" fill="#36a6df" fill-opacity="0.5"/>
<circle cx="141.4" cy="287.5" r="2.15" fill="#36a6df" fill-opacity="0.5"/>
<circle cx="146.0" cy="289.5" r="2.15" fill="#36a6df" fill-opacity="0.5"/>
<circle cx="136.9" cy="312.2" r="2.15" fill="#36a6df" fill-opacity="0.5"/>
<circle cx="136.9" cy="317.1" r="2.15" fill="#36a6df" fill-opacity="0.5"/>
<circle cx="146.0" cy="317.1" r="2.15" fill="#36a6df" fill-opacity="0.5"/>
<circle cx="146.0" cy="317.1" r="2.15" fill="#36a6df" fill-opacity="0.5"/>
<circle cx="168.6" cy="292.4" r="2.15" fill="#36a6df" fill-opacity="0.5"/>
<circle cx="168.6" cy="302.3" r="2.15" fill="#36a6df" fill-opacity="0.5"/>
<circle cx="164.0" cy="307.3" r="2.15" fill="#36a6df" fill-opacity="0.5"/>
<circle cx="177.6" cy="307.3" r="2.15" fill="#36a6df" fill-opacity="0.5"/>
<circle cx="168.6" cy="322.1" r="2.15" fill="#36a6df" fill-opacity="0.5"/>
<circle cx="173.1" cy="322.1" r="2.15" fill="#36a6df" fill-opacity="0.5"/>
<circle cx="191.2" cy="292.4" r="2.15" fill="#36a6df" fill-opacity="0.5"/>
<circle cx="191.2" cy="307.3" r="2.15" fill="#36a6df" fill-opacity="0.5"/>
<circle cx="191.2" cy="312.2" r="2.15" fill="#36a6df" fill-opacity="0.5"/>
<circle cx="195.7" cy="312.2" r="2.15" fill="#36a6df" fill-opacity="0.5"/>
<circle cx="200.2" cy="312.2" r="2.15" fill="#36a6df" fill-opacity="0.5"/>
<circle cx="200.2" cy="312.2" r="2.15" fill="#36a6df" fill-opacity="0.5"/>
<circle cx="195.7" cy="317.1" r="2.15" fill="#36a6df" fill-opacity="0.5"/>
<circle cx="209.2" cy="307.3" r="2.15" fill="#36a6df" fill-opacity="0.5"/>
<circle cx="209.2" cy="309.7" r="2.15" fill="#36a6df" fill-opacity="0.5"/>
<circle cx="209.2" cy="327.0" r="2.15" fill="#36a6df" fill-opacity="0.5"/>
<circle cx="213.8" cy="287.5" r="2.15" fill="#36a6df" fill-opacity="0.5"/>
<circle cx="213.8" cy="287.5" r="2.15" fill="#36a6df" fill-opacity="0.5"/>
<circle cx="218.3" cy="317.1" r="2.15" fill="#36a6df" fill-opacity="0.5"/>
<circle cx="222.8" cy="287.5" r="2.15" fill="#36a6df" fill-opacity="0.5"/>
<circle cx="222.8" cy="293.4" r="2.15" fill="#36a6df" fill-opacity="0.5"/>
<circle cx="222.8" cy="302.3" r="2.15" fill="#36a6df" fill-opacity="0.5"/>
<circle cx="222.8" cy="322.1" r="2.15" fill="#36a6df" fill-opacity="0.5"/>
<circle cx="227.3" cy="297.4" r="2.15" fill="#36a6df" fill-opacity="0.5"/>
<circle cx="231.8" cy="297.4" r="2.15" fill="#36a6df" fill-opacity="0.5"/>
<circle cx="227.3" cy="317.1" r="2.15" fill="#36a6df" fill-opacity="0.5"/>
<circle cx="236.3" cy="288.5" r="2.15" fill="#36a6df" fill-opacity="0.5"/>
<circle cx="236.3" cy="302.3" r="2.15" fill="#36a6df" fill-opacity="0.5"/>
<circle cx="236.3" cy="302.3" r="2.15" fill="#36a6df" fill-opacity="0.5"/>
<circle cx="240.9" cy="295.4" r="2.15" fill="#36a6df" fill-opacity="0.5"/>
<circle cx="249.9" cy="302.3" r="2.15" fill="#36a6df" fill-opacity="0.5"/>
<circle cx="249.9" cy="317.1" r="2.15" fill="#36a6df" fill-opacity="0.5"/>
<circle cx="258.9" cy="282.6" r="2.15" fill="#36a6df" fill-opacity="0.5"/>
<circle cx="258.9" cy="317.1" r="2.15" fill="#36a6df" fill-opacity="0.5"/>
<circle cx="258.9" cy="317.1" r="2.15" fill="#36a6df" fill-opacity="0.5"/>
<circle cx="258.9" cy="331.9" r="2.15" fill="#36a6df" fill-opacity="0.5"/>
<circle cx="268.0" cy="287.5" r="2.15" fill="#36a6df" fill-opacity="0.5"/>
<circle cx="272.5" cy="297.4" r="2.15" fill="#36a6df" fill-opacity="0.5"/>
<circle cx="272.5" cy="311.2" r="2.15" fill="#36a6df" fill-opacity="0.5"/>
<circle cx="281.5" cy="282.6" r="2.15" fill="#36a6df" fill-opacity="0.5"/>
<circle cx="286.1" cy="282.6" r="2.15" fill="#36a6df" fill-opacity="0.5"/>
<circle cx="281.5" cy="320.1" r="2.15" fill="#36a6df" fill-opacity="0.5"/>
<circle cx="290.6" cy="287.5" r="2.15" fill="#36a6df" fill-opacity="0.5"/>
<circle cx="290.6" cy="297.4" r="2.15" fill="#36a6df" fill-opacity="0.5"/>
<circle cx="295.1" cy="287.5" r="2.15" fill="#36a6df" fill-opacity="0.5"/>
<circle cx="295.1" cy="307.3" r="2.15" fill="#36a6df" fill-opacity="0.5"/>
<circle cx="299.6" cy="287.5" r="2.15" fill="#36a6df" fill-opacity="0.5"/>
<circle cx="299.6" cy="292.4" r="2.15" fill="#36a6df" fill-opacity="0.5"/>
<circle cx="304.1" cy="282.6" r="2.15" fill="#36a6df" fill-opacity="0.5"/>
<circle cx="304.1" cy="287.5" r="2.15" fill="#36a6df" fill-opacity="0.5"/>
<circle cx="304.1" cy="297.4" r="2.15" fill="#36a6df" fill-opacity="0.5"/>
<circle cx="304.1" cy="303.8" r="2.15" fill="#36a6df" fill-opacity="0.5"/>
<circle cx="308.7" cy="317.1" r="2.15" fill="#36a6df" fill-opacity="0.5"/>
<circle cx="313.2" cy="282.6" r="2.15" fill="#36a6df" fill-opacity="0.5"/>
<circle cx="313.2" cy="307.3" r="2.15" fill="#36a6df" fill-opacity="0.5"/>
<circle cx="322.2" cy="292.4" r="2.15" fill="#36a6df" fill-opacity="0.5"/>
<circle cx="326.7" cy="292.4" r="2.15" fill="#36a6df" fill-opacity="0.5"/>
<circle cx="326.7" cy="309.2" r="2.15" fill="#36a6df" fill-opacity="0.5"/>
<circle cx="331.3" cy="302.3" r="2.15" fill="#36a6df" fill-opacity="0.5"/>
<circle cx="331.3" cy="302.3" r="2.15" fill="#36a6df" fill-opacity="0.5"/>
<circle cx="331.3" cy="329.0" r="2.15" fill="#36a6df" fill-opacity="0.5"/>
<circle cx="335.8" cy="297.4" r="2.15" fill="#36a6df" fill-opacity="0.5"/>
<circle cx="340.3" cy="281.1" r="2.15" fill="#36a6df" fill-opacity="0.5"/>
<circle cx="349.3" cy="303.3" r="2.15" fill="#36a6df" fill-opacity="0.5"/>
<circle cx="349.3" cy="322.1" r="2.15" fill="#36a6df" fill-opacity="0.5"/>
<circle cx="353.9" cy="282.6" r="2.15" fill="#36a6df" fill-opacity="0.5"/>
<circle cx="353.9" cy="297.4" r="2.15" fill="#36a6df" fill-opacity="0.5"/>
<circle cx="353.9" cy="317.1" r="2.15" fill="#36a6df" fill-opacity="0.5"/>
<circle cx="358.4" cy="282.6" r="2.15" fill="#36a6df" fill-opacity="0.5"/>
<circle cx="358.4" cy="287.5" r="2.15" fill="#36a6df" fill-opacity="0.5"/>
<circle cx="362.9" cy="307.3" r="2.15" fill="#36a6df" fill-opacity="0.5"/>
<circle cx="362.9" cy="307.3" r="2.15" fill="#36a6df" fill-opacity="0.5"/>
<circle cx="367.4" cy="297.4" r="2.15" fill="#36a6df" fill-opacity="0.5"/>
<circle cx="371.9" cy="308.7" r="2.15" fill="#36a6df" fill-opacity="0.5"/>
<circle cx="376.5" cy="324.5" r="2.15" fill="#36a6df" fill-opacity="0.5"/>
<circle cx="381.0" cy="317.1" r="2.15" fill="#36a6df" fill-opacity="0.5"/>
<circle cx="385.5" cy="297.4" r="2.15" fill="#36a6df" fill-opacity="0.5"/>
<circle cx="394.5" cy="297.4" r="2.15" fill="#36a6df" fill-opacity="0.5"/>
<circle cx="394.5" cy="302.3" r="2.15" fill="#36a6df" fill-opacity="0.5"/>
<circle cx="394.5" cy="302.3" r="2.15" fill="#36a6df" fill-opacity="0.5"/>
<circle cx="394.5" cy="310.2" r="2.15" fill="#36a6df" fill-opacity="0.5"/>
<circle cx="394.5" cy="334.4" r="2.15" fill="#36a6df" fill-opacity="0.5"/>
<circle cx="399.1" cy="287.5" r="2.15" fill="#36a6df" fill-opacity="0.5"/>
<circle cx="399.1" cy="302.3" r="2.15" fill="#36a6df" fill-opacity="0.5"/>
<circle cx="408.1" cy="302.3" r="2.15" fill="#36a6df" fill-opacity="0.5"/>
<circle cx="408.1" cy="317.1" r="2.15" fill="#36a6df" fill-opacity="0.5"/>
<circle cx="417.1" cy="282.6" r="2.15" fill="#36a6df" fill-opacity="0.5"/>
<circle cx="417.1" cy="302.3" r="2.15" fill="#36a6df" fill-opacity="0.5"/>
<circle cx="417.1" cy="307.3" r="2.15" fill="#36a6df" fill-opacity="0.5"/>
<circle cx="421.6" cy="302.3" r="2.15" fill="#36a6df" fill-opacity="0.5"/>
<circle cx="421.6" cy="302.3" r="2.15" fill="#36a6df" fill-opacity="0.5"/>
<circle cx="426.2" cy="307.3" r="2.15" fill="#36a6df" fill-opacity="0.5"/>
<circle cx="426.2" cy="331.9" r="2.15" fill="#36a6df" fill-opacity="0.5"/>
<circle cx="430.7" cy="299.9" r="2.15" fill="#36a6df" fill-opacity="0.5"/>
<circle cx="435.2" cy="297.4" r="2.15" fill="#36a6df" fill-opacity="0.5"/>
<circle cx="435.2" cy="302.8" r="2.15" fill="#36a6df" fill-opacity="0.5"/>
<circle cx="439.7" cy="313.7" r="2.15" fill="#36a6df" fill-opacity="0.5"/>
<circle cx="439.7" cy="322.1" r="2.15" fill="#36a6df" fill-opacity="0.5"/>
<circle cx="448.8" cy="293.4" r="2.15" fill="#36a6df" fill-opacity="0.5"/>
<circle cx="448.8" cy="297.4" r="2.15" fill="#36a6df" fill-opacity="0.5"/>
<circle cx="448.8" cy="307.3" r="2.15" fill="#36a6df" fill-opacity="0.5"/>
<circle cx="457.8" cy="312.2" r="2.15" fill="#36a6df" fill-opacity="0.5"/>
<circle cx="457.8" cy="336.9" r="2.15" fill="#36a6df" fill-opacity="0.5"/>
<circle cx="462.3" cy="289.5" r="2.15" fill="#36a6df" fill-opacity="0.5"/>
<circle cx="462.3" cy="297.4" r="2.15" fill="#36a6df" fill-opacity="0.5"/>
<circle cx="462.3" cy="312.2" r="2.15" fill="#36a6df" fill-opacity="0.5"/>
<circle cx="466.8" cy="282.6" r="2.15" fill="#36a6df" fill-opacity="0.5"/>
<circle cx="466.8" cy="297.4" r="2.15" fill="#36a6df" fill-opacity="0.5"/>
<circle cx="480.4" cy="297.4" r="2.15" fill="#36a6df" fill-opacity="0.5"/>
<circle cx="484.9" cy="287.5" r="2.15" fill="#36a6df" fill-opacity="0.5"/>
<circle cx="484.9" cy="287.5" r="2.15" fill="#36a6df" fill-opacity="0.5"/>
<circle cx="484.9" cy="315.7" r="2.15" fill="#36a6df" fill-opacity="0.5"/>
<circle cx="489.4" cy="307.3" r="2.15" fill="#36a6df" fill-opacity="0.5"/>
<circle cx="489.4" cy="307.3" r="2.15" fill="#36a6df" fill-opacity="0.5"/>
<circle cx="489.4" cy="338.4" r="2.15" fill="#36a6df" fill-opacity="0.5"/>
<circle cx="494.0" cy="292.4" r="2.15" fill="#36a6df" fill-opacity="0.5"/>
<circle cx="494.0" cy="307.3" r="2.15" fill="#36a6df" fill-opacity="0.5"/>
<circle cx="503.0" cy="281.1" r="2.15" fill="#36a6df" fill-opacity="0.5"/>
<circle cx="507.5" cy="309.7" r="2.15" fill="#36a6df" fill-opacity="0.5"/>
<circle cx="512.0" cy="287.5" r="2.15" fill="#36a6df" fill-opacity="0.5"/>
<circle cx="516.6" cy="287.5" r="2.15" fill="#36a6df" fill-opacity="0.5"/>
<circle cx="516.6" cy="297.4" r="2.15" fill="#36a6df" fill-opacity="0.5"/>
<circle cx="516.6" cy="312.2" r="2.15" fill="#36a6df" fill-opacity="0.5"/>
<circle cx="521.1" cy="287.5" r="2.15" fill="#36a6df" fill-opacity="0.5"/>
<circle cx="521.1" cy="333.4" r="2.15" fill="#36a6df" fill-opacity="0.5"/>
<circle cx="525.6" cy="297.4" r="2.15" fill="#36a6df" fill-opacity="0.5"/>
<circle cx="525.6" cy="317.1" r="2.15" fill="#36a6df" fill-opacity="0.5"/>
<circle cx="530.1" cy="282.6" r="2.15" fill="#36a6df" fill-opacity="0.5"/>
<circle cx="530.1" cy="287.5" r="2.15" fill="#36a6df" fill-opacity="0.5"/>
<circle cx="530.1" cy="307.3" r="2.15" fill="#36a6df" fill-opacity="0.5"/>
<circle cx="534.6" cy="292.4" r="2.15" fill="#36a6df" fill-opacity="0.5"/>
<circle cx="534.6" cy="302.3" r="2.15" fill="#36a6df" fill-opacity="0.5"/>
<circle cx="539.2" cy="307.3" r="2.15" fill="#36a6df" fill-opacity="0.5"/>
<circle cx="539.2" cy="322.1" r="2.15" fill="#36a6df" fill-opacity="0.5"/>
<circle cx="543.7" cy="282.6" r="2.15" fill="#36a6df" fill-opacity="0.5"/>
<circle cx="543.7" cy="287.5" r="2.15" fill="#36a6df" fill-opacity="0.5"/>
<circle cx="543.7" cy="292.4" r="2.15" fill="#36a6df" fill-opacity="0.5"/>
<circle cx="548.2" cy="297.4" r="2.15" fill="#36a6df" fill-opacity="0.5"/>
<circle cx="548.2" cy="329.5" r="2.15" fill="#36a6df" fill-opacity="0.5"/>
<circle cx="552.7" cy="292.4" r="2.15" fill="#36a6df" fill-opacity="0.5"/>
<circle cx="557.2" cy="292.4" r="2.15" fill="#36a6df" fill-opacity="0.5"/>
<circle cx="557.2" cy="302.3" r="2.15" fill="#36a6df" fill-opacity="0.5"/>
<circle cx="561.8" cy="287.5" r="2.15" fill="#36a6df" fill-opacity="0.5"/>
<circle cx="561.8" cy="297.9" r="2.15" fill="#36a6df" fill-opacity="0.5"/>
<circle cx="566.3" cy="333.4" r="2.15" fill="#36a6df" fill-opacity="0.5"/>
<circle cx="575.3" cy="282.6" r="2.15" fill="#36a6df" fill-opacity="0.5"/>
<circle cx="575.3" cy="287.5" r="2.15" fill="#36a6df" fill-opacity="0.5"/>
<circle cx="575.3" cy="287.5" r="2.15" fill="#36a6df" fill-opacity="0.5"/>
<circle cx="575.3" cy="299.9" r="2.15" fill="#36a6df" fill-opacity="0.5"/>
<circle cx="575.3" cy="292.4" r="2.15" fill="#36a6df" fill-opacity="0.5"/>
<circle cx="579.8" cy="297.4" r="2.15" fill="#36a6df" fill-opacity="0.5"/>
<circle cx="579.8" cy="302.3" r="2.15" fill="#36a6df" fill-opacity="0.5"/>
<circle cx="579.8" cy="319.1" r="2.15" fill="#36a6df" fill-opacity="0.5"/>
<circle cx="588.9" cy="298.9" r="2.15" fill="#36a6df" fill-opacity="0.5"/>
<circle cx="593.4" cy="287.5" r="2.15" fill="#36a6df" fill-opacity="0.5"/>
<circle cx="593.4" cy="292.4" r="2.15" fill="#36a6df" fill-opacity="0.5"/>
<circle cx="593.4" cy="297.4" r="2.15" fill="#36a6df" fill-opacity="0.5"/>
<circle cx="593.4" cy="307.3" r="2.15" fill="#36a6df" fill-opacity="0.5"/>
<circle cx="597.9" cy="295.9" r="2.15" fill="#36a6df" fill-opacity="0.5"/>
<circle cx="602.4" cy="287.5" r="2.15" fill="#36a6df" fill-opacity="0.5"/>
<circle cx="602.4" cy="292.4" r="2.15" fill="#36a6df" fill-opacity="0.5"/>
<circle cx="602.4" cy="302.3" r="2.15" fill="#36a6df" fill-opacity="0.5"/>
<circle cx="606.9" cy="282.6" r="2.15" fill="#36a6df" fill-opacity="0.5"/>
<circle cx="606.9" cy="319.1" r="2.15" fill="#36a6df" fill-opacity="0.5"/>
<circle cx="611.5" cy="282.6" r="2.15" fill="#36a6df" fill-opacity="0.5"/>
<circle cx="611.5" cy="282.6" r="2.15" fill="#36a6df" fill-opacity="0.5"/>
<circle cx="611.5" cy="302.3" r="2.15" fill="#36a6df" fill-opacity="0.5"/>
<circle cx="616.0" cy="297.4" r="2.15" fill="#36a6df" fill-opacity="0.5"/>
<circle cx="616.0" cy="297.4" r="2.15" fill="#36a6df" fill-opacity="0.5"/>
<circle cx="616.0" cy="302.3" r="2.15" fill="#36a6df" fill-opacity="0.5"/>
<circle cx="620.5" cy="292.4" r="2.15" fill="#36a6df" fill-opacity="0.5"/>
<circle cx="620.5" cy="287.5" r="2.15" fill="#36a6df" fill-opacity="0.5"/>
<circle cx="625.0" cy="282.6" r="2.15" fill="#36a6df" fill-opacity="0.5"/>
<circle cx="629.5" cy="282.6" r="2.15" fill="#36a6df" fill-opacity="0.5"/>
<circle cx="629.5" cy="287.5" r="2.15" fill="#36a6df" fill-opacity="0.5"/>
<circle cx="629.5" cy="320.1" r="2.15" fill="#36a6df" fill-opacity="0.5"/>
<circle cx="634.1" cy="302.3" r="2.15" fill="#36a6df" fill-opacity="0.5"/>
<circle cx="638.6" cy="282.6" r="2.15" fill="#36a6df" fill-opacity="0.5"/>
<circle cx="638.6" cy="297.4" r="2.15" fill="#36a6df" fill-opacity="0.5"/>
<circle cx="643.1" cy="287.5" r="2.15" fill="#36a6df" fill-opacity="0.5"/>
<circle cx="643.1" cy="287.5" r="2.15" fill="#36a6df" fill-opacity="0.5"/>
<circle cx="643.1" cy="299.9" r="2.15" fill="#36a6df" fill-opacity="0.5"/>
<circle cx="647.6" cy="302.3" r="2.15" fill="#36a6df" fill-opacity="0.5"/>
<circle cx="652.1" cy="293.4" r="2.15" fill="#36a6df" fill-opacity="0.5"/>
<circle cx="652.1" cy="312.2" r="2.15" fill="#36a6df" fill-opacity="0.5"/>
<circle cx="656.7" cy="287.5" r="2.15" fill="#36a6df" fill-opacity="0.5"/>
<circle cx="661.2" cy="282.6" r="2.15" fill="#36a6df" fill-opacity="0.5"/>
<circle cx="665.7" cy="292.0" r="2.15" fill="#36a6df" fill-opacity="0.5"/>
<circle cx="665.7" cy="308.2" r="2.15" fill="#36a6df" fill-opacity="0.5"/>
<circle cx="670.2" cy="282.6" r="2.15" fill="#36a6df" fill-opacity="0.5"/>
<circle cx="670.2" cy="287.5" r="2.15" fill="#36a6df" fill-opacity="0.5"/>
<circle cx="670.2" cy="297.4" r="2.15" fill="#36a6df" fill-opacity="0.5"/>
<circle cx="674.7" cy="297.4" r="2.15" fill="#36a6df" fill-opacity="0.5"/>
<circle cx="674.7" cy="297.4" r="2.15" fill="#36a6df" fill-opacity="0.5"/>
<circle cx="674.7" cy="319.1" r="2.15" fill="#36a6df" fill-opacity="0.5"/>
<circle cx="679.3" cy="292.4" r="2.15" fill="#36a6df" fill-opacity="0.5"/>
<circle cx="683.8" cy="290.0" r="2.15" fill="#36a6df" fill-opacity="0.5"/>
<circle cx="683.8" cy="297.4" r="2.15" fill="#36a6df" fill-opacity="0.5"/>
<circle cx="688.3" cy="277.6" r="2.15" fill="#36a6df" fill-opacity="0.5"/>
<circle cx="688.3" cy="303.8" r="2.15" fill="#36a6df" fill-opacity="0.5"/>
<circle cx="692.8" cy="289.5" r="2.15" fill="#36a6df" fill-opacity="0.5"/>
<circle cx="692.8" cy="302.3" r="2.15" fill="#36a6df" fill-opacity="0.5"/>
<circle cx="692.8" cy="326.0" r="2.15" fill="#36a6df" fill-opacity="0.5"/>
<circle cx="697.3" cy="302.3" r="2.15" fill="#36a6df" fill-opacity="0.5"/>
<circle cx="701.9" cy="277.6" r="2.15" fill="#36a6df" fill-opacity="0.5"/>
<circle cx="701.9" cy="302.3" r="2.15" fill="#36a6df" fill-opacity="0.5"/>
<circle cx="706.4" cy="323.1" r="2.15" fill="#36a6df" fill-opacity="0.5"/>
<circle cx="710.9" cy="282.6" r="2.15" fill="#36a6df" fill-opacity="0.5"/>
<circle cx="715.4" cy="298.9" r="2.15" fill="#36a6df" fill-opacity="0.5"/>
<circle cx="674.7" cy="275.2" r="2.15" fill="#36a6df" fill-opacity="0.5"/>
<circle cx="73.6" cy="267.8" r="2.15" fill="#36a6df" fill-opacity="0.5"/>
<circle cx="87.2" cy="259.4" r="2.15" fill="#36a6df" fill-opacity="0.5"/>
<circle cx="105.3" cy="262.8" r="2.15" fill="#36a6df" fill-opacity="0.5"/>
<circle cx="118.8" cy="272.7" r="2.15" fill="#36a6df" fill-opacity="0.5"/>
<circle cx="141.4" cy="262.8" r="2.15" fill="#36a6df" fill-opacity="0.5"/>
<circle cx="173.1" cy="257.9" r="2.15" fill="#36a6df" fill-opacity="0.5"/>
<circle cx="249.9" cy="267.8" r="2.15" fill="#36a6df" fill-opacity="0.5"/>
<circle cx="272.5" cy="260.9" r="2.15" fill="#36a6df" fill-opacity="0.5"/>
<circle cx="299.6" cy="265.3" r="2.15" fill="#36a6df" fill-opacity="0.5"/>
<circle cx="308.7" cy="272.7" r="2.15" fill="#36a6df" fill-opacity="0.5"/>
<circle cx="308.7" cy="272.7" r="2.15" fill="#36a6df" fill-opacity="0.5"/>
<circle cx="322.2" cy="262.8" r="2.15" fill="#36a6df" fill-opacity="0.5"/>
<circle cx="326.7" cy="262.8" r="2.15" fill="#36a6df" fill-opacity="0.5"/>
<circle cx="326.7" cy="272.7" r="2.15" fill="#36a6df" fill-opacity="0.5"/>
<circle cx="331.3" cy="272.7" r="2.15" fill="#36a6df" fill-opacity="0.5"/>
<circle cx="331.3" cy="272.7" r="2.15" fill="#36a6df" fill-opacity="0.5"/>
<circle cx="362.9" cy="257.9" r="2.15" fill="#36a6df" fill-opacity="0.5"/>
<circle cx="362.9" cy="272.7" r="2.15" fill="#36a6df" fill-opacity="0.5"/>
<circle cx="381.0" cy="277.6" r="2.15" fill="#36a6df" fill-opacity="0.5"/>
<circle cx="394.5" cy="274.7" r="2.15" fill="#36a6df" fill-opacity="0.5"/>
<circle cx="403.6" cy="224.3" r="2.15" fill="#36a6df" fill-opacity="0.5"/>
<circle cx="426.2" cy="267.8" r="2.15" fill="#36a6df" fill-opacity="0.5"/>
<circle cx="457.8" cy="277.6" r="2.15" fill="#36a6df" fill-opacity="0.5"/>
<circle cx="489.4" cy="276.6" r="2.15" fill="#36a6df" fill-opacity="0.5"/>
<circle cx="521.1" cy="271.7" r="2.15" fill="#36a6df" fill-opacity="0.5"/>
<circle cx="521.1" cy="276.6" r="2.15" fill="#36a6df" fill-opacity="0.5"/>
<circle cx="552.7" cy="267.8" r="2.15" fill="#36a6df" fill-opacity="0.5"/>
<circle cx="552.7" cy="277.6" r="2.15" fill="#36a6df" fill-opacity="0.5"/>
<circle cx="575.3" cy="277.6" r="2.15" fill="#36a6df" fill-opacity="0.5"/>
<circle cx="575.3" cy="277.6" r="2.15" fill="#36a6df" fill-opacity="0.5"/>
<circle cx="584.4" cy="276.6" r="2.15" fill="#36a6df" fill-opacity="0.5"/>
<circle cx="588.9" cy="277.6" r="2.15" fill="#36a6df" fill-opacity="0.5"/>
<circle cx="606.9" cy="267.8" r="2.15" fill="#36a6df" fill-opacity="0.5"/>
<circle cx="616.0" cy="259.4" r="2.15" fill="#36a6df" fill-opacity="0.5"/>
<circle cx="625.0" cy="272.7" r="2.15" fill="#36a6df" fill-opacity="0.5"/>
<circle cx="625.0" cy="277.6" r="2.15" fill="#36a6df" fill-opacity="0.5"/>
<circle cx="625.0" cy="277.6" r="2.15" fill="#36a6df" fill-opacity="0.5"/>
<circle cx="638.6" cy="262.8" r="2.15" fill="#36a6df" fill-opacity="0.5"/>
<circle cx="638.6" cy="277.6" r="2.15" fill="#36a6df" fill-opacity="0.5"/>
<circle cx="643.1" cy="257.9" r="2.15" fill="#36a6df" fill-opacity="0.5"/>
<circle cx="643.1" cy="277.6" r="2.15" fill="#36a6df" fill-opacity="0.5"/>
<circle cx="647.6" cy="263.8" r="2.15" fill="#36a6df" fill-opacity="0.5"/>
<circle cx="647.6" cy="267.8" r="2.15" fill="#36a6df" fill-opacity="0.5"/>
<circle cx="647.6" cy="277.6" r="2.15" fill="#36a6df" fill-opacity="0.5"/>
<circle cx="656.7" cy="267.8" r="2.15" fill="#36a6df" fill-opacity="0.5"/>
<circle cx="670.2" cy="267.8" r="2.15" fill="#36a6df" fill-opacity="0.5"/>
<circle cx="674.7" cy="257.9" r="2.15" fill="#36a6df" fill-opacity="0.5"/>
<circle cx="674.7" cy="262.8" r="2.15" fill="#36a6df" fill-opacity="0.5"/>
<circle cx="679.3" cy="265.3" r="2.15" fill="#36a6df" fill-opacity="0.5"/>
<circle cx="710.9" cy="267.8" r="2.15" fill="#36a6df" fill-opacity="0.5"/>
<circle cx="439.7" cy="340.8" r="2.15" fill="#36a6df" fill-opacity="0.5"/>
<circle cx="503.0" cy="347.3" r="2.15" fill="#36a6df" fill-opacity="0.5"/>
<circle cx="629.5" cy="343.3" r="2.15" fill="#36a6df" fill-opacity="0.5"/>
<circle cx="105.3" cy="322.1" r="2.15" fill="#36a6df" fill-opacity="0.5"/>
<circle cx="118.8" cy="317.1" r="2.15" fill="#36a6df" fill-opacity="0.5"/>
<circle cx="141.4" cy="307.3" r="2.15" fill="#36a6df" fill-opacity="0.5"/>
<circle cx="146.0" cy="327.0" r="2.15" fill="#36a6df" fill-opacity="0.5"/>
<circle cx="173.1" cy="312.2" r="2.15" fill="#36a6df" fill-opacity="0.5"/>
<circle cx="204.7" cy="331.9" r="2.15" fill="#36a6df" fill-opacity="0.5"/>
<circle cx="222.8" cy="305.8" r="2.15" fill="#36a6df" fill-opacity="0.5"/>
<circle cx="227.3" cy="307.3" r="2.15" fill="#36a6df" fill-opacity="0.5"/>
<circle cx="227.3" cy="312.2" r="2.15" fill="#36a6df" fill-opacity="0.5"/>
<circle cx="240.9" cy="297.4" r="2.15" fill="#36a6df" fill-opacity="0.5"/>
<circle cx="258.9" cy="307.3" r="2.15" fill="#36a6df" fill-opacity="0.5"/>
<circle cx="258.9" cy="312.2" r="2.15" fill="#36a6df" fill-opacity="0.5"/>
<circle cx="286.1" cy="307.3" r="2.15" fill="#36a6df" fill-opacity="0.5"/>
<circle cx="304.1" cy="292.0" r="2.15" fill="#36a6df" fill-opacity="0.5"/>
<circle cx="340.3" cy="292.4" r="2.15" fill="#36a6df" fill-opacity="0.5"/>
<circle cx="362.9" cy="328.5" r="2.15" fill="#36a6df" fill-opacity="0.5"/>
<circle cx="367.4" cy="294.9" r="2.15" fill="#36a6df" fill-opacity="0.5"/>
<circle cx="381.0" cy="302.3" r="2.15" fill="#36a6df" fill-opacity="0.5"/>
<circle cx="399.1" cy="292.0" r="2.15" fill="#36a6df" fill-opacity="0.5"/>
<circle cx="417.1" cy="317.1" r="2.15" fill="#36a6df" fill-opacity="0.5"/>
<circle cx="426.2" cy="317.1" r="2.15" fill="#36a6df" fill-opacity="0.5"/>
<circle cx="435.2" cy="317.1" r="2.15" fill="#36a6df" fill-opacity="0.5"/>
<circle cx="466.8" cy="307.3" r="2.15" fill="#36a6df" fill-opacity="0.5"/>
<circle cx="489.4" cy="302.3" r="2.15" fill="#36a6df" fill-opacity="0.5"/>
<circle cx="489.4" cy="312.2" r="2.15" fill="#36a6df" fill-opacity="0.5"/>
<circle cx="521.1" cy="292.4" r="2.15" fill="#36a6df" fill-opacity="0.5"/>
<circle cx="543.7" cy="297.4" r="2.15" fill="#36a6df" fill-opacity="0.5"/>
<circle cx="552.7" cy="307.3" r="2.15" fill="#36a6df" fill-opacity="0.5"/>
<circle cx="575.3" cy="302.3" r="2.15" fill="#36a6df" fill-opacity="0.5"/>
<circle cx="579.8" cy="292.4" r="2.15" fill="#36a6df" fill-opacity="0.5"/>
<circle cx="620.5" cy="291.5" r="2.15" fill="#36a6df" fill-opacity="0.5"/>
<circle cx="656.7" cy="302.3" r="2.15" fill="#36a6df" fill-opacity="0.5"/>
<circle cx="652.1" cy="318.1" r="2.15" fill="#36a6df" fill-opacity="0.5"/>
<circle cx="706.4" cy="282.1" r="2.15" fill="#36a6df" fill-opacity="0.5"/>
<circle cx="710.9" cy="292.4" r="2.15" fill="#36a6df" fill-opacity="0.5"/>
<circle cx="710.9" cy="297.4" r="2.15" fill="#36a6df" fill-opacity="0.5"/>
<circle cx="715.4" cy="292.0" r="2.15" fill="#36a6df" fill-opacity="0.5"/>
<circle cx="141.4" cy="272.7" r="2.15" fill="#36a6df" fill-opacity="0.5"/>
<circle cx="670.2" cy="262.8" r="2.15" fill="#36a6df" fill-opacity="0.5"/>
<circle cx="718.3" cy="487.0" r="4.3" fill="#f6ae30" stroke="#fff" stroke-width="1.5"/>
<circle cx="718.3" cy="302.4" r="4.3" fill="#ff1717" stroke="#fff" stroke-width="1.5"/>
<circle cx="718.3" cy="287.6" r="4.3" fill="#0b86cc" stroke="#fff" stroke-width="1.5"/>
<rect x="722.8" y="269.4" width="48.3" height="15.6" fill="#fff" fill-opacity="0.82"/>
<text x="724.3 733.7 744.9 752.9" y="283.6" class="num" fill="#0b86cc" stroke="#0b86cc" stroke-width="0.35">45.0</text>
<text transform="translate(761.6,283.6) scale(0.68,1)" class="num" fill="#0b86cc" stroke="#0b86cc" stroke-width="0.35">%</text>
<rect x="722.8" y="301.7" width="48.3" height="15.3" fill="#fff" fill-opacity="0.82"/>
<text x="724.3 733.7 744.9 752.9" y="314.3" class="num" fill="#ff1717" stroke="#ff1717" stroke-width="0.35">42.0</text>
<text transform="translate(761.6,314.3) scale(0.68,1)" class="num" fill="#ff1717" stroke="#ff1717" stroke-width="0.35">%</text>
<rect x="722.8" y="482.4" width="38.9" height="15.6" fill="#fff" fill-opacity="0.82"/>
<text x="724.3 735.0 743.4" y="496.5" class="num" fill="#f6ae30" stroke="#f6ae30" stroke-width="0.35">4.6</text>
<text transform="translate(752.2,496.5) scale(0.68,1)" class="num" fill="#f6ae30" stroke="#f6ae30" stroke-width="0.35">%</text>
<text x="775.2" y="283.6" class="nm" fill="#0b86cc" textLength="44" lengthAdjust="spacingAndGlyphs">Clinton</text>
<text x="775.4" y="314.3" class="nm" fill="#ff1717" textLength="40" lengthAdjust="spacingAndGlyphs">Trump</text>
<text x="765.2" y="496.5" class="nm" fill="#f6ae30" textLength="50.2" lengthAdjust="spacingAndGlyphs">Johnson</text>
<text transform="translate(31.0,530.7) scale(0.955,1)" text-anchor="start" class="xlab">JUNE 8</text>
<text transform="translate(154.4,530.7) scale(0.955,1)" text-anchor="middle" class="xlab">JULY</text>
<text transform="translate(294.6,530.7) scale(0.955,1)" text-anchor="middle" class="xlab">AUG.</text>
<text transform="translate(434.7,530.7) scale(0.955,1)" text-anchor="middle" class="xlab">SEPT.</text>
<text transform="translate(570.2,530.7) scale(0.955,1)" text-anchor="middle" class="xlab">OCT.</text>
<text transform="translate(710.3,530.7) scale(0.955,1)" text-anchor="middle" class="xlab">NOV.</text>
<text x="746.6" y="195.5" text-anchor="end" class="eday">ELECTION DAY</text>
<text x="746.8" y="209.8" text-anchor="end" class="eday2">NOV. 8</text>
</svg>
</body></html>
